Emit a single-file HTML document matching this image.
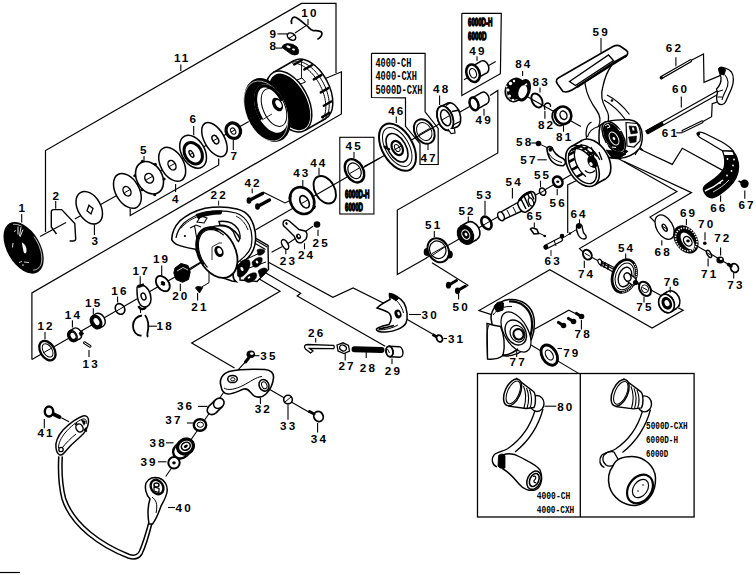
<!DOCTYPE html>
<html><head><meta charset="utf-8"><style>
html,body{margin:0;padding:0;background:#fff;width:756px;height:575px;overflow:hidden}
svg{display:block}
text{font-family:"Liberation Sans",sans-serif;font-weight:bold;fill:#000}
.c{font-family:"Liberation Sans",sans-serif;font-weight:bold}
.m{font-family:"Liberation Mono",monospace;font-weight:bold}
</style></head><body>
<svg width="756" height="575" viewBox="0 0 756 575">
<rect width="756" height="575" fill="#fff"/>
<polyline points="45.5,232 45.5,150.5 301.5,3.4 336,3.4 336,73" fill="none" stroke="#000" stroke-width="1.2" stroke-linejoin="miter"/>
<polyline points="326,78.3 341.4,71.8 341.4,113.9 31.9,292.9 31.9,359.5" fill="none" stroke="#000" stroke-width="1.2" stroke-linejoin="miter"/>
<polyline points="180.8,64.5 180.8,71" fill="none" stroke="#000" stroke-width="1.1" stroke-linejoin="miter"/>
<polyline points="130.2,208.5 130.2,215.5 218.7,165 218.7,158.5" fill="none" stroke="#000" stroke-width="1.2" stroke-linejoin="miter"/>
<polyline points="40,236.5 66,222.6" fill="none" stroke="#000" stroke-width="1.1" stroke-linejoin="miter"/>
<polyline points="74.8,219 252,119.8" fill="none" stroke="#000" stroke-width="1.1" stroke-linejoin="miter"/>
<polyline points="31.9,359.5 212.2,255.5" fill="none" stroke="#000" stroke-width="1.1" stroke-linejoin="miter"/>
<polyline points="255.8,229.8 302,203" fill="none" stroke="#000" stroke-width="1.1" stroke-linejoin="miter"/>
<polyline points="302,203 380,158 397.5,148 474,104" fill="none" stroke="#000" stroke-width="1.1" stroke-linejoin="miter"/>
<polyline points="371.5,53.3 425.1,53.3 425.1,111.8 438.2,128.4 438.2,164.5 420,164.5 420,143.7 405.5,126.3 405.5,97.8 371.5,97.5 371.5,53.3" fill="none" stroke="#000" stroke-width="1.2" stroke-linejoin="miter"/>
<polyline points="428,144 428,150" fill="none" stroke="#000" stroke-width="1.1" stroke-linejoin="miter"/>
<rect x="339.8" y="137.3" width="34.1" height="76.7" fill="none" stroke="#000" stroke-width="1.1"/>
<polyline points="461.8,13.3 501.3,13.3 500.4,73.7 461.8,95.4 461.8,13.3" fill="none" stroke="#000" stroke-width="1.2" stroke-linejoin="miter"/>
<polyline points="464,79.8 495.7,61.5" fill="none" stroke="#000" stroke-width="1.1" stroke-linejoin="miter"/>
<polyline points="490,95.6 497.8,90.4 497.8,153 397.3,210.1 397.3,274.4 426.5,258.1" fill="none" stroke="#000" stroke-width="1.2" stroke-linejoin="miter"/>
<polyline points="426,258 575,172.5" fill="none" stroke="#000" stroke-width="1.1" stroke-linejoin="miter"/>
<polyline points="432,262.8 468,285.3 465.5,287" fill="none" stroke="#000" stroke-width="1.1" stroke-linejoin="miter"/>
<polyline points="526,96 580.9,126.5" fill="none" stroke="#000" stroke-width="1.1" stroke-linejoin="miter"/>
<polyline points="616,157.3 676.9,191.4 579.5,248.6 584,253" fill="none" stroke="#000" stroke-width="1.2" stroke-linejoin="miter"/>
<polyline points="623.3,161 691.5,192.6 650,217 655,222" fill="none" stroke="#000" stroke-width="1.2" stroke-linejoin="miter"/>
<polyline points="640,149.3 672.3,164.4 682.3,148.3 722.7,170.4" fill="none" stroke="#000" stroke-width="1.2" stroke-linejoin="miter"/>
<polyline points="691.4,60.2 703.5,54 704,82.4 720.6,75.4" fill="none" stroke="#000" stroke-width="1.2" stroke-linejoin="miter"/>
<polyline points="702.5,121.7 711.6,116.7 712.2,103.6 718.6,101.6" fill="none" stroke="#000" stroke-width="1.2" stroke-linejoin="miter"/>
<polyline points="567.7,232.9 567.7,184.9 576,180.7" fill="none" stroke="#000" stroke-width="1.2" stroke-linejoin="miter"/>
<polyline points="584,253 680,306" fill="none" stroke="#000" stroke-width="1.1" stroke-linejoin="miter"/>
<polyline points="496.9,316.4 479,310.5 549.8,269.8 652.1,328.1 683.1,310.2 678.3,307.9" fill="none" stroke="#000" stroke-width="1.2" stroke-linejoin="miter"/>
<polyline points="534.3,329.3 568.8,310.2 578.3,315" fill="none" stroke="#000" stroke-width="1.2" stroke-linejoin="miter"/>
<polyline points="523,340.2 579,373.6" fill="none" stroke="#000" stroke-width="1.1" stroke-linejoin="miter"/>
<polyline points="268,262 332.9,297.4 353.1,287.9 388.8,305.7" fill="none" stroke="#000" stroke-width="1.2" stroke-linejoin="miter"/>
<polyline points="265.9,273.1 300.7,293.3 297.2,296 385.2,346.2" fill="none" stroke="#000" stroke-width="1.2" stroke-linejoin="miter"/>
<polyline points="257.6,278 280,291.2 191.7,343.1 234.5,368.1" fill="none" stroke="#000" stroke-width="1.2" stroke-linejoin="miter"/>
<polyline points="402,316.4 435.2,335.5" fill="none" stroke="#000" stroke-width="1.1" stroke-linejoin="miter"/>
<polyline points="271.5,252.3 281.9,246.7" fill="none" stroke="#000" stroke-width="1.1" stroke-linejoin="miter"/>
<polyline points="288,243.5 313,226.2" fill="none" stroke="#000" stroke-width="1.1" stroke-linejoin="miter"/>
<polyline points="268.9,389 309.1,412.3" fill="none" stroke="#000" stroke-width="1.1" stroke-linejoin="miter"/>
<polyline points="245.2,362.1 233.3,375.2" fill="none" stroke="#000" stroke-width="1.1" stroke-linejoin="miter"/>
<polyline points="224.4,391.2 165.7,476.5" fill="none" stroke="#000" stroke-width="1.1" stroke-linejoin="miter"/>
<polyline points="61.3,417.8 69.1,421.7" fill="none" stroke="#000" stroke-width="1.1" stroke-linejoin="miter"/>
<polyline points="189.2,270.2 212.2,255.5" fill="none" stroke="#000" stroke-width="1.1" stroke-linejoin="miter"/>
<polyline points="201.8,286.9 209,282.7 209,246" fill="none" stroke="#000" stroke-width="1" stroke-linejoin="miter"/>
<polyline points="364.2,166.5 380,158" fill="none" stroke="#000" stroke-width="1.1" stroke-linejoin="miter"/>
<polyline points="263,192 285,203 290,200.6" fill="none" stroke="#000" stroke-width="1.1" stroke-linejoin="miter"/>
<rect x="477.5" y="373.5" width="216.6" height="143.5" fill="none" stroke="#000" stroke-width="1.3"/>
<polyline points="580.3,373.5 580.3,517" fill="none" stroke="#000" stroke-width="1.3" stroke-linejoin="miter"/>
<polyline points="306.5,25.4 295,33" fill="none" stroke="#000" stroke-width="1.1" stroke-linejoin="miter"/>
<polyline points="668,229 728.7,264.5" fill="none" stroke="#000" stroke-width="1.1" stroke-linejoin="miter"/>
<ellipse cx="23.60" cy="247.80" rx="28.30" ry="16.50" transform="rotate(60 23.60 247.80)" fill="#000" stroke="#000" stroke-width="0" />
<polyline points="33.94,236.62 34.67,237.67 35.38,238.75 36.05,239.85 36.70,240.97 37.31,242.10 37.89,243.25 38.44,244.41 38.95,245.57 39.42,246.74 39.85,247.91 40.24,249.08 40.60,250.25 40.91,251.40 41.17,252.55 41.40,253.68 41.57,254.80 41.71,255.89 41.80,256.96 41.84,258.01 41.84,259.03 41.80,260.01 41.70,260.97 41.57,261.88 41.39,262.76 41.16,263.60 40.89,264.39 40.58,265.14 40.23,265.84 39.83,266.50 39.40,267.10 38.93,267.65 38.42,268.15 37.87,268.59 37.29,268.97 36.67,269.30 36.03,269.57 35.35,269.78 34.64,269.93 33.91,270.03 33.16,270.06" fill="none" stroke="#fff" stroke-width="0.8" />
<polyline points="13.10,224.46 13.29,224.43 13.48,224.41 13.67,224.38 13.86,224.37 14.06,224.35 14.25,224.34 14.45,224.33 14.65,224.33 14.85,224.33 15.05,224.33 15.26,224.34 15.46,224.35 15.67,224.37 15.87,224.39 16.08,224.41 16.29,224.44 16.50,224.47 16.71,224.50 16.92,224.54 17.14,224.58 17.35,224.62 17.57,224.67 17.78,224.72 18.00,224.78 18.22,224.84 18.44,224.90 18.65,224.97 18.87,225.04 19.09,225.11 19.32,225.19 19.54,225.27 19.76,225.35 19.98,225.44 20.21,225.53 20.43,225.63 20.65,225.72 20.88,225.83 21.10,225.93 21.33,226.04 21.55,226.15" fill="none" stroke="#fff" stroke-width="0.9" />
<path d="M22,242.5 C25,244 27,247.5 26.5,251.5 C26,254 24.5,254 23.5,251.5 C23,248 22,245 22,242.5 Z" fill="#fff" stroke="#000" stroke-width="0" />
<path d="M18,226.5 l0,8 M21,227 l-1.5,9 M23,229.5 l-3,7.5 M13,243 l-0.5,4.5" fill="none" stroke="#fff" stroke-width="0.9" />
<path d="M14,231.5 l2,-1 M19,262.5 l3,-1 M24,262 l5,0.5 M22,265 l2,0" fill="none" stroke="#fff" stroke-width="0.8" />
<path d="M56.5,234 L51.3,227 L51.3,212 Q51.3,209.6 53.5,209.6 L61.7,209.6 L74.8,223.5 L75.7,239 Q75.5,241 73,241 L69.6,241" fill="none" stroke="#000" stroke-width="1.4" />
<ellipse cx="89.25" cy="207.75" rx="17.56" ry="11.46" transform="rotate(60 89.25 207.75)" fill="#fff" stroke="#000" stroke-width="1.5" />
<path d="M89,205.2 L93,208.5 L91,214 L87,210.7 Z" fill="none" stroke="#000" stroke-width="1.3" />
<polyline points="94.4,224 94.4,235" fill="none" stroke="#000" stroke-width="1.1" stroke-linejoin="miter"/>
<polyline points="21.7,214 21.7,222.6" fill="none" stroke="#000" stroke-width="1.1" stroke-linejoin="miter"/>
<polyline points="55.7,201 55.7,208.7" fill="none" stroke="#000" stroke-width="1.1" stroke-linejoin="miter"/>
<ellipse cx="127.40" cy="190.90" rx="18.91" ry="11.77" transform="rotate(60 127.40 190.90)" fill="#fff" stroke="#000" stroke-width="1.5" />
<ellipse cx="127.00" cy="191.25" rx="5.08" ry="3.57" transform="rotate(60 127.00 191.25)" fill="#fff" stroke="#000" stroke-width="1.5" />
<ellipse cx="149.50" cy="177.75" rx="17.27" ry="12.73" transform="rotate(60 149.50 177.75)" fill="#fff" stroke="#000" stroke-width="1.6" />
<circle cx="154.7" cy="194.7" r="1.5" fill="#000"/>
<circle cx="141.9" cy="189.7" r="1.5" fill="#000"/>
<circle cx="134.8" cy="175.7" r="1.5" fill="#000"/>
<circle cx="142.4" cy="161.2" r="1.5" fill="#000"/>
<circle cx="155.3" cy="164.2" r="1.5" fill="#000"/>
<circle cx="164.1" cy="179.1" r="1.5" fill="#000"/>
<ellipse cx="149.15" cy="178.25" rx="4.94" ry="4.14" transform="rotate(60 149.15 178.25)" fill="#fff" stroke="#000" stroke-width="1.5" />
<polyline points="144,156 144,161" fill="none" stroke="#000" stroke-width="1.1" stroke-linejoin="miter"/>
<ellipse cx="172.20" cy="164.35" rx="18.43" ry="11.39" transform="rotate(60 172.20 164.35)" fill="#fff" stroke="#000" stroke-width="1.5" />
<ellipse cx="172.00" cy="165.20" rx="5.15" ry="3.53" transform="rotate(60 172.00 165.20)" fill="#fff" stroke="#000" stroke-width="1.5" />
<polyline points="175.6,184 175.6,192" fill="none" stroke="#000" stroke-width="1.1" stroke-linejoin="miter"/>
<ellipse cx="193.10" cy="151.75" rx="17.78" ry="11.58" transform="rotate(60 193.10 151.75)" fill="#fff" stroke="#000" stroke-width="1.5" />
<ellipse cx="193.25" cy="153.25" rx="11.43" ry="8.40" transform="rotate(60 193.25 153.25)" fill="#fff" stroke="#000" stroke-width="3.0" />
<ellipse cx="191.40" cy="153.85" rx="3.74" ry="1.74" transform="rotate(60 191.40 153.85)" fill="#fff" stroke="#000" stroke-width="1.4" />
<polyline points="193.7,126 193.7,135.3" fill="none" stroke="#000" stroke-width="1.1" stroke-linejoin="miter"/>
<ellipse cx="214.45" cy="139.55" rx="18.84" ry="9.92" transform="rotate(60 214.45 139.55)" fill="#fff" stroke="#000" stroke-width="1.5" />
<ellipse cx="215.35" cy="139.55" rx="4.63" ry="2.79" transform="rotate(60 215.35 139.55)" fill="#fff" stroke="#000" stroke-width="1.5" />
<ellipse cx="233.30" cy="130.70" rx="7.89" ry="7.09" transform="rotate(60 233.30 130.70)" fill="#fff" stroke="#000" stroke-width="3.2" />
<ellipse cx="233.15" cy="131.10" rx="3.30" ry="2.39" transform="rotate(60 233.15 131.10)" fill="#fff" stroke="#000" stroke-width="1.0" />
<polyline points="233.3,140 233.3,150" fill="none" stroke="#000" stroke-width="1.1" stroke-linejoin="miter"/>
<text x="18.6" y="212" font-size="11.7" letter-spacing="2.1">1</text>
<text x="52.6" y="200" font-size="11.7" letter-spacing="2.1">2</text>
<text x="91.6" y="245" font-size="11.7" letter-spacing="2.1">3</text>
<text x="172.1" y="202.6" font-size="11.7" letter-spacing="2.1">4</text>
<text x="140.0" y="154.3" font-size="11.7" letter-spacing="2.1">5</text>
<text x="189.6" y="123" font-size="11.7" letter-spacing="2.1">6</text>
<text x="230.6" y="160.3" font-size="11.7" letter-spacing="2.1">7</text>
<text x="269.6" y="50" font-size="11.7" letter-spacing="2.1">8</text>
<text x="269.6" y="37.6" font-size="11.7" letter-spacing="2.1">9</text>
<text x="301.3" y="16.7" font-size="11.7" letter-spacing="2.1">10</text>
<text x="173.9" y="62.4" font-size="11.7" letter-spacing="2.1">11</text>
<text x="37.5" y="329.8" font-size="11.7" letter-spacing="2.1">12</text>
<text x="82.6" y="367.9" font-size="11.7" letter-spacing="2.1">13</text>
<text x="64.8" y="319" font-size="11.7" letter-spacing="2.1">14</text>
<text x="85.1" y="307.1" font-size="11.7" letter-spacing="2.1">15</text>
<text x="111.3" y="295.2" font-size="11.7" letter-spacing="2.1">16</text>
<text x="132.6" y="275" font-size="11.7" letter-spacing="2.1">17</text>
<text x="156.6" y="330" font-size="11.7" letter-spacing="2.1">18</text>
<text x="152.9" y="263.1" font-size="11.7" letter-spacing="2.1">19</text>
<text x="172.2" y="300.2" font-size="11.7" letter-spacing="2.1">20</text>
<text x="191.29999999999998" y="311" font-size="11.7" letter-spacing="2.1">21</text>
<text x="210.6" y="198.6" font-size="11.7" letter-spacing="2.1">22</text>
<text x="279.8" y="265.1" font-size="11.7" letter-spacing="2.1">23</text>
<text x="298.0" y="259" font-size="11.7" letter-spacing="2.1">24</text>
<text x="312.6" y="246.9" font-size="11.7" letter-spacing="2.1">25</text>
<text x="308.1" y="336.5" font-size="11.7" letter-spacing="2.1">26</text>
<text x="338.40000000000003" y="370" font-size="11.7" letter-spacing="2.1">27</text>
<text x="359.8" y="372.4" font-size="11.7" letter-spacing="2.1">28</text>
<text x="384.8" y="374.8" font-size="11.7" letter-spacing="2.1">29</text>
<text x="421.6" y="318.8" font-size="11.7" letter-spacing="2.1">30</text>
<text x="447.90000000000003" y="342.6" font-size="11.7" letter-spacing="2.1">31</text>
<text x="254.7" y="413.4" font-size="11.7" letter-spacing="2.1">32</text>
<text x="280.1" y="430.3" font-size="11.7" letter-spacing="2.1">33</text>
<text x="310.8" y="443" font-size="11.7" letter-spacing="2.1">34</text>
<text x="260.3" y="359.8" font-size="11.7" letter-spacing="2.1">35</text>
<text x="177.0" y="410" font-size="11.7" letter-spacing="2.1">36</text>
<text x="165.29999999999998" y="424.4" font-size="11.7" letter-spacing="2.1">37</text>
<text x="149.6" y="446.5" font-size="11.7" letter-spacing="2.1">38</text>
<text x="140.5" y="466" font-size="11.7" letter-spacing="2.1">39</text>
<text x="175.6" y="511.8" font-size="11.7" letter-spacing="2.1">40</text>
<text x="37.4" y="437.4" font-size="11.7" letter-spacing="2.1">41</text>
<text x="244.5" y="187.2" font-size="11.7" letter-spacing="2.1">42</text>
<text x="293.20000000000005" y="176.9" font-size="11.7" letter-spacing="2.1">43</text>
<text x="310.20000000000005" y="166.5" font-size="11.7" letter-spacing="2.1">44</text>
<text x="345.6" y="149.5" font-size="11.7" letter-spacing="2.1">45</text>
<text x="388.20000000000005" y="114.5" font-size="11.7" letter-spacing="2.1">46</text>
<text x="420.40000000000003" y="161.8" font-size="11.7" letter-spacing="2.1">47</text>
<text x="433.1" y="92.8" font-size="11.7" letter-spacing="2.1">48</text>
<text x="469.3" y="55.4" font-size="11.7" letter-spacing="2.1">49</text>
<text x="475.6" y="124.3" font-size="11.7" letter-spacing="2.1">49</text>
<text x="452.6" y="310.5" font-size="11.7" letter-spacing="2.1">50</text>
<text x="425.1" y="228.9" font-size="11.7" letter-spacing="2.1">51</text>
<text x="458.5" y="215.3" font-size="11.7" letter-spacing="2.1">52</text>
<text x="476.20000000000005" y="198.6" font-size="11.7" letter-spacing="2.1">53</text>
<text x="505.6" y="186" font-size="11.7" letter-spacing="2.1">54</text>
<text x="618.0" y="252.3" font-size="11.7" letter-spacing="2.1">54</text>
<text x="533.9" y="178.6" font-size="11.7" letter-spacing="2.1">55</text>
<text x="549.6" y="206.8" font-size="11.7" letter-spacing="2.1">56</text>
<text x="520.3000000000001" y="164" font-size="11.7" letter-spacing="2.1">57</text>
<text x="516.1" y="146.4" font-size="11.7" letter-spacing="2.1">58</text>
<text x="592.6" y="35.8" font-size="11.7" letter-spacing="2.1">59</text>
<text x="671.9" y="93" font-size="11.7" letter-spacing="2.1">60</text>
<text x="661.8000000000001" y="136.9" font-size="11.7" letter-spacing="2.1">61</text>
<text x="665.8000000000001" y="52.2" font-size="11.7" letter-spacing="2.1">62</text>
<text x="544.6" y="265" font-size="11.7" letter-spacing="2.1">63</text>
<text x="570.4" y="217.5" font-size="11.7" letter-spacing="2.1">64</text>
<text x="526.6" y="220.4" font-size="11.7" letter-spacing="2.1">65</text>
<text x="710.2" y="212" font-size="11.7" letter-spacing="2.1">66</text>
<text x="738.4" y="209" font-size="11.7" letter-spacing="2.1">67</text>
<text x="654.6" y="255.6" font-size="11.7" letter-spacing="2.1">68</text>
<text x="679.9" y="217" font-size="11.7" letter-spacing="2.1">69</text>
<text x="698.1" y="228.2" font-size="11.7" letter-spacing="2.1">70</text>
<text x="701.1" y="277.6" font-size="11.7" letter-spacing="2.1">71</text>
<text x="714.2" y="242.3" font-size="11.7" letter-spacing="2.1">72</text>
<text x="727.3000000000001" y="288.7" font-size="11.7" letter-spacing="2.1">73</text>
<text x="577.9" y="277.8" font-size="11.7" letter-spacing="2.1">74</text>
<text x="636.3000000000001" y="311.4" font-size="11.7" letter-spacing="2.1">75</text>
<text x="663.8000000000001" y="285.7" font-size="11.7" letter-spacing="2.1">76</text>
<text x="509.6" y="366.4" font-size="11.7" letter-spacing="2.1">77</text>
<text x="574.6" y="338" font-size="11.7" letter-spacing="2.1">78</text>
<text x="563.2" y="357" font-size="11.7" letter-spacing="2.1">79</text>
<text x="557.2" y="411" font-size="11.7" letter-spacing="2.1">80</text>
<text x="556.1" y="141.3" font-size="11.7" letter-spacing="2.1">81</text>
<text x="537.9" y="129.1" font-size="11.7" letter-spacing="2.1">82</text>
<text x="532.6" y="85.7" font-size="11.7" letter-spacing="2.1">83</text>
<text x="515.2" y="68.3" font-size="11.7" letter-spacing="2.1">84</text>
<ellipse cx="310.00" cy="89.50" rx="33.00" ry="19.00" transform="rotate(62 310.00 89.50)" fill="#fff" stroke="#000" stroke-width="1.5" />
<polygon points="273.22,72.52 294.22,60.52 325.78,118.48 304.78,130.48" fill="#fff" stroke="none"/>
<line x1="273.22" y1="72.52" x2="294.22" y2="60.52" stroke="#000" stroke-width="1.5"/>
<line x1="304.78" y1="130.48" x2="325.78" y2="118.48" stroke="#000" stroke-width="1.5"/>
<ellipse cx="289.00" cy="101.50" rx="33.00" ry="19.00" transform="rotate(62 289.00 101.50)" fill="#fff" stroke="#000" stroke-width="1.5" />
<polyline points="293.43,61.50 294.78,61.24 296.18,61.13 297.63,61.17 299.13,61.36 300.66,61.70 302.22,62.19 303.80,62.82 305.39,63.59 306.99,64.49 308.59,65.53 310.17,66.70 311.74,67.99 313.28,69.40 314.78,70.91 316.25,72.53 317.67,74.24 319.03,76.03 320.33,77.90 321.56,79.84 322.72,81.83 323.79,83.88 324.79,85.96 325.69,88.06 326.50,90.19 327.21,92.32 327.81,94.45 328.32,96.57 328.71,98.66 329.00,100.71 329.17,102.72 329.24,104.68 329.19,106.57 329.03,108.39 328.76,110.13 328.38,111.78 327.89,113.33 327.30,114.77 326.60,116.09 325.81,117.30 324.92,118.38" fill="none" stroke="#000" stroke-width="1.0" />
<polyline points="291.97,63.07 293.32,63.03 294.71,63.12 296.14,63.34 297.59,63.69 299.07,64.18 300.57,64.79 302.08,65.53 303.59,66.39 305.10,67.38 306.60,68.47 308.09,69.68 309.55,70.99 310.98,72.40 312.38,73.90 313.74,75.49 315.05,77.15 316.31,78.89 317.51,80.69 318.64,82.55 319.71,84.46 320.70,86.40 321.62,88.38 322.45,90.38 323.20,92.39 323.86,94.41 324.43,96.43 324.91,98.43 325.29,100.41 325.57,102.36 325.75,104.27 325.83,106.13 325.81,107.94 325.69,109.69 325.48,111.36 325.16,112.95 324.75,114.46 324.24,115.88 323.63,117.20 322.94,118.42 322.16,119.52" fill="none" stroke="#000" stroke-width="1.0" />
<line x1="301.7" y1="60.2" x2="294.2" y2="64.5" stroke="#000" stroke-width="2.4" stroke-linecap="round"/>
<line x1="311.8" y1="65.2" x2="304.3" y2="69.5" stroke="#000" stroke-width="2.4" stroke-linecap="round"/>
<line x1="321.3" y1="75.1" x2="313.8" y2="79.4" stroke="#000" stroke-width="2.4" stroke-linecap="round"/>
<line x1="328.3" y1="88.1" x2="320.8" y2="92.4" stroke="#000" stroke-width="2.4" stroke-linecap="round"/>
<line x1="331.3" y1="101.5" x2="323.8" y2="105.8" stroke="#000" stroke-width="2.4" stroke-linecap="round"/>
<line x1="329.7" y1="112.8" x2="322.2" y2="117.1" stroke="#000" stroke-width="2.4" stroke-linecap="round"/>
<ellipse cx="289.60" cy="101.90" rx="30.80" ry="16.80" transform="rotate(62 289.60 101.90)" fill="#000" stroke="#000" stroke-width="0" />
<path d="M297,80 l5,-2 l3.5,4 l-5,2 z" fill="none" stroke="#000" stroke-width="1.0" />
<polyline points="301.5,62 301.5,78" fill="none" stroke="#000" stroke-width="0.9" stroke-linejoin="miter"/>
<ellipse cx="267.50" cy="110.00" rx="33.50" ry="21.50" transform="rotate(67 267.50 110.00)" fill="#000" stroke="#000" stroke-width="0" />
<ellipse cx="265.80" cy="111.00" rx="31.50" ry="19.80" transform="rotate(67 265.80 111.00)" fill="none" stroke="#fff" stroke-width="0.6" />
<ellipse cx="271.00" cy="108.50" rx="25.50" ry="14.80" transform="rotate(67 271.00 108.50)" fill="#fff" stroke="#000" stroke-width="0" />
<polyline points="261.71,119.42 260.73,117.74 259.82,116.00 258.98,114.21 258.22,112.38 257.56,110.52 256.98,108.65 256.50,106.78 256.11,104.93 255.83,103.09 255.65,101.29 255.58,99.54 255.61,97.86 255.75,96.24 255.99,94.71 256.33,93.27 256.77,91.93 257.31,90.71 257.94,89.61 258.66,88.64 259.46,87.80 260.35,87.11 261.30,86.55 262.32,86.15 263.40,85.90 264.53,85.81 265.71,85.86 266.92,86.08 268.16,86.44 269.42,86.96 270.69,87.62 271.96,88.42 273.22,89.36 274.47,90.43 275.70,91.62 276.90,92.93 278.05,94.35 279.16,95.86 280.21,97.45 281.19,99.12 282.11,100.86" fill="none" stroke="#000" stroke-width="3.2" />
<ellipse cx="274.00" cy="107.50" rx="20.00" ry="11.00" transform="rotate(67 274.00 107.50)" fill="none" stroke="#000" stroke-width="1.0" />
<ellipse cx="277.50" cy="104.50" rx="7.40" ry="4.80" transform="rotate(60 277.50 104.50)" fill="#000" stroke="#000" stroke-width="0" />
<ellipse cx="278.50" cy="104.00" rx="4.30" ry="2.60" transform="rotate(60 278.50 104.00)" fill="#fff" stroke="#000" stroke-width="0" />
<polyline points="262,120 272,114" fill="none" stroke="#000" stroke-width="0.8" stroke-linejoin="miter"/>
<path d="M291.7,24 C290.5,19 293,16 296,17.5 C300,19.5 303,23 306.5,25.4 C309,27.3 310,29.6 312.6,30.3 C316,31 320,30.3 321.6,32.3 C323,34.5 320.5,37.5 317.4,39.4" fill="none" stroke="#000" stroke-width="1.7" />
<ellipse cx="291.50" cy="36.60" rx="4.60" ry="3.20" transform="rotate(35 291.50 36.60)" fill="#fff" stroke="#000" stroke-width="1.5" />
<polyline points="288.5,38.5 294.5,35" fill="none" stroke="#000" stroke-width="1.0" stroke-linejoin="miter"/>
<polyline points="277.4,33.9 287,33.9" fill="none" stroke="#000" stroke-width="1.1" stroke-linejoin="miter"/>
<path d="M281.8,47.4 Q283,44 287,43.6 Q293,43.3 297,47 Q300,51 298,54 Q295,56 291,54 Z" fill="#000" stroke="#000" stroke-width="0.8" />
<ellipse cx="288.50" cy="46.80" rx="2.20" ry="1.20" transform="rotate(20 288.50 46.80)" fill="#fff" stroke="#000" stroke-width="0" />
<ellipse cx="293.50" cy="49.50" rx="1.50" ry="1.00" transform="rotate(20 293.50 49.50)" fill="#fff" stroke="#000" stroke-width="0" />
<polyline points="275.8,48.1 282,48.1" fill="none" stroke="#000" stroke-width="1.1" stroke-linejoin="miter"/>
<polyline points="308,19 308,25" fill="none" stroke="#000" stroke-width="1.1" stroke-linejoin="miter"/>
<line x1="249" y1="200.5" x2="262.5" y2="193.5" stroke="#000" stroke-width="3.4" stroke-linecap="round"/>
<ellipse cx="249" cy="200.5" rx="2.4" ry="3.2" fill="#000"/>
<line x1="257.5" y1="206.5" x2="269.5" y2="200" stroke="#000" stroke-width="3.4" stroke-linecap="round"/>
<ellipse cx="257.5" cy="206.5" rx="2.4" ry="3.2" fill="#000"/>
<polyline points="252.2,188.4 252.2,193.3" fill="none" stroke="#000" stroke-width="1.1" stroke-linejoin="miter"/>
<ellipse cx="302.15" cy="200.60" rx="13.98" ry="11.47" transform="rotate(60 302.15 200.60)" fill="#fff" stroke="#000" stroke-width="2.6" />
<ellipse cx="304.55" cy="201.85" rx="6.71" ry="4.05" transform="rotate(60 304.55 201.85)" fill="#fff" stroke="#000" stroke-width="1.6" />
<path d="M291.5,196 l-2,-1.5 l-0.5,4 z M313,205 l2.5,1 l-1,3 z" fill="#000" stroke="#000" stroke-width="1" />
<polyline points="302.8,180 302.8,186" fill="none" stroke="#000" stroke-width="1.1" stroke-linejoin="miter"/>
<ellipse cx="324.75" cy="189.75" rx="14.84" ry="9.76" transform="rotate(60 324.75 189.75)" fill="none" stroke="#000" stroke-width="1.9" />
<polyline points="319,167.7 319,175" fill="none" stroke="#000" stroke-width="1.1" stroke-linejoin="miter"/>
<ellipse cx="354.45" cy="170.80" rx="12.42" ry="8.68" transform="rotate(60 354.45 170.80)" fill="#fff" stroke="#000" stroke-width="2.4" />
<ellipse cx="354.50" cy="170.80" rx="8.30" ry="6.08" transform="rotate(60 354.50 170.80)" fill="none" stroke="#000" stroke-width="1.2" />
<polyline points="354,152 354,158" fill="none" stroke="#000" stroke-width="1.1" stroke-linejoin="miter"/>
<text x="345" y="197.6" font-size="11.2" textLength="24.5" lengthAdjust="spacingAndGlyphs" stroke="#000" stroke-width="1.3">6000D-H</text>
<text x="345" y="211.3" font-size="11.2" textLength="18" lengthAdjust="spacingAndGlyphs" stroke="#000" stroke-width="1.3">6000D</text>
<ellipse cx="397.50" cy="147.15" rx="25.84" ry="15.29" transform="rotate(60 397.50 147.15)" fill="#fff" stroke="#000" stroke-width="2.0" />
<ellipse cx="397.25" cy="147.00" rx="21.48" ry="11.67" transform="rotate(60 397.25 147.00)" fill="none" stroke="#000" stroke-width="1.0" />
<ellipse cx="397.00" cy="147.75" rx="15.62" ry="8.94" transform="rotate(60 397.00 147.75)" fill="none" stroke="#000" stroke-width="1.6" />
<ellipse cx="397.25" cy="148.00" rx="7.55" ry="5.01" transform="rotate(60 397.25 148.00)" fill="#fff" stroke="#000" stroke-width="2.2" />
<ellipse cx="397.25" cy="148.00" rx="3.82" ry="2.28" transform="rotate(60 397.25 148.00)" fill="#fff" stroke="#000" stroke-width="1.0" />
<path d="M384,146 q3,4 6,3" fill="none" stroke="#000" stroke-width="2.2" />
<polyline points="396.3,116.6 396.3,123" fill="none" stroke="#000" stroke-width="1.1" stroke-linejoin="miter"/>
<ellipse cx="424.25" cy="131.50" rx="12.99" ry="9.45" transform="rotate(60 424.25 131.50)" fill="none" stroke="#000" stroke-width="2.0" />
<ellipse cx="424.25" cy="131.50" rx="9.56" ry="7.04" transform="rotate(60 424.25 131.50)" fill="none" stroke="#000" stroke-width="1.0" />
<ellipse cx="452.50" cy="115.00" rx="12.70" ry="7.50" transform="rotate(70 452.50 115.00)" fill="#fff" stroke="#000" stroke-width="1.6" />
<polygon points="440.59,106.37 447.89,103.17 457.11,126.83 449.81,130.03" fill="#fff" stroke="none"/>
<line x1="440.59" y1="106.37" x2="447.89" y2="103.17" stroke="#000" stroke-width="1.6"/>
<line x1="449.81" y1="130.03" x2="457.11" y2="126.83" stroke="#000" stroke-width="1.6"/>
<ellipse cx="445.20" cy="118.20" rx="12.70" ry="7.50" transform="rotate(70 445.20 118.20)" fill="#fff" stroke="#000" stroke-width="1.6" />
<path d="M452,111.5 L459.5,110 M453,125 L460,121.5 M446,105.5 L450.5,102.5" fill="none" stroke="#000" stroke-width="1.3" />
<ellipse cx="445.20" cy="118.20" rx="12.70" ry="7.50" transform="rotate(70 445.20 118.20)" fill="#fff" stroke="#000" stroke-width="1.8" />
<ellipse cx="445.70" cy="117.80" rx="8.30" ry="4.60" transform="rotate(70 445.70 117.80)" fill="#fff" stroke="#000" stroke-width="1.5" />
<path d="M448,129 l3,4.5 l4,-0.5 l-0.5,-4" fill="#fff" stroke="#000" stroke-width="1.2" />
<polyline points="439.6,95.4 439.6,105" fill="none" stroke="#000" stroke-width="1.1" stroke-linejoin="miter"/>
<ellipse cx="484.50" cy="98.00" rx="6.20" ry="4.30" transform="rotate(70 484.50 98.00)" fill="#fff" stroke="#000" stroke-width="1.5" />
<polygon points="471.42,98.39 481.92,92.39 487.08,103.61 476.58,109.61" fill="#fff" stroke="none"/>
<line x1="471.42" y1="98.39" x2="481.92" y2="92.39" stroke="#000" stroke-width="1.5"/>
<line x1="476.58" y1="109.61" x2="487.08" y2="103.61" stroke="#000" stroke-width="1.5"/>
<ellipse cx="474.00" cy="104.00" rx="6.20" ry="4.30" transform="rotate(70 474.00 104.00)" fill="#fff" stroke="#000" stroke-width="1.5" />
<ellipse cx="474.00" cy="103.90" rx="6.64" ry="4.13" transform="rotate(70 474.00 103.90)" fill="#fff" stroke="#000" stroke-width="2.4" />
<polyline points="484,108.7 484,115.7" fill="none" stroke="#000" stroke-width="1.1" stroke-linejoin="miter"/>
<ellipse cx="484.00" cy="67.00" rx="6.50" ry="4.60" transform="rotate(70 484.00 67.00)" fill="#fff" stroke="#000" stroke-width="1.5" />
<polygon points="470.29,67.32 481.29,61.12 486.71,72.88 475.71,79.08" fill="#fff" stroke="none"/>
<line x1="470.29" y1="67.32" x2="481.29" y2="61.12" stroke="#000" stroke-width="1.5"/>
<line x1="475.71" y1="79.08" x2="486.71" y2="72.88" stroke="#000" stroke-width="1.5"/>
<ellipse cx="473.00" cy="73.20" rx="6.50" ry="4.60" transform="rotate(70 473.00 73.20)" fill="#fff" stroke="#000" stroke-width="1.5" />
<ellipse cx="473.00" cy="73.25" rx="9.01" ry="6.45" transform="rotate(70 473.00 73.25)" fill="#fff" stroke="#000" stroke-width="2.6" />
<ellipse cx="473.00" cy="73.25" rx="4.91" ry="3.27" transform="rotate(70 473.00 73.25)" fill="#fff" stroke="#000" stroke-width="1.2" />
<polyline points="477,56.3 477,60.7" fill="none" stroke="#000" stroke-width="1.1" stroke-linejoin="miter"/>
<text x="468" y="25.8" font-size="11" textLength="24.5" lengthAdjust="spacingAndGlyphs" stroke="#000" stroke-width="1.3">6000D-H</text>
<text x="468" y="39.6" font-size="11" textLength="18.5" lengthAdjust="spacingAndGlyphs" stroke="#000" stroke-width="1.3">6000D</text>
<text x="375.4" y="67.3" font-size="12" class="m" textLength="36" lengthAdjust="spacingAndGlyphs" transform="translate(375.4 67.3) scale(1 1.05) translate(-375.4 -67.3)">4000-CH</text>
<text x="375.4" y="80.5" font-size="12" class="m" textLength="41.6" lengthAdjust="spacingAndGlyphs" transform="translate(375.4 80.5) scale(1 1.05) translate(-375.4 -80.5)">4000-CXH</text>
<text x="375.4" y="94.4" font-size="12" class="m" textLength="47" lengthAdjust="spacingAndGlyphs" transform="translate(375.4 94.4) scale(1 1.05) translate(-375.4 -94.4)">5000D-CXH</text>
<ellipse cx="515.00" cy="90.00" rx="12.60" ry="10.20" transform="rotate(-70 515.00 90.00)" fill="#000" stroke="#000" stroke-width="0" />
<polyline points="522.60,93.09 522.29,93.82 521.94,94.52 521.55,95.20 521.13,95.84 520.67,96.46 520.18,97.04 519.66,97.58 519.12,98.07 518.55,98.53 517.96,98.93 517.35,99.28 516.73,99.58 516.11,99.83 515.47,100.02 514.83,100.16 514.20,100.24 513.57,100.26 512.94,100.22 512.33,100.13 511.73,99.97 511.15,99.77 510.60,99.51 510.06,99.19 509.56,98.82 509.08,98.41 508.64,97.94 508.24,97.43 507.87,96.88 507.54,96.29 507.26,95.67 507.02,95.01 506.82,94.33 506.67,93.62 506.57,92.89 506.51,92.14 506.50,91.39 506.54,90.62 506.63,89.85 506.76,89.08 506.94,88.32" fill="none" stroke="#fff" stroke-width="0.8" />
<circle cx="510.5" cy="83.5" r="1.7" fill="#fff"/>
<circle cx="508" cy="90" r="1.5" fill="#fff"/>
<circle cx="509.5" cy="96" r="1.5" fill="#fff"/>
<circle cx="514" cy="81" r="1.2" fill="#fff"/>
<circle cx="513" cy="100" r="1.2" fill="#fff"/>
<circle cx="506.5" cy="86.5" r="1" fill="#fff"/>
<ellipse cx="523.50" cy="90.30" rx="11.60" ry="7.00" transform="rotate(-72 523.50 90.30)" fill="#000" stroke="#000" stroke-width="0" />
<ellipse cx="522.80" cy="91.80" rx="6.80" ry="4.20" transform="rotate(-72 522.80 91.80)" fill="#fff" stroke="#000" stroke-width="0" />
<ellipse cx="526.00" cy="84.50" rx="1.50" ry="0.90" transform="rotate(-30 526.00 84.50)" fill="#fff" stroke="#000" stroke-width="0" />
<polyline points="522.6,70.9 522.6,76" fill="none" stroke="#000" stroke-width="1.1" stroke-linejoin="miter"/>
<ellipse cx="536.95" cy="100.45" rx="7.52" ry="4.87" transform="rotate(60 536.95 100.45)" fill="none" stroke="#000" stroke-width="2.0" />
<polyline points="540,87.4 540,92.6" fill="none" stroke="#000" stroke-width="1.1" stroke-linejoin="miter"/>
<path d="M545,110 q-2,-6 2,-7 q4,0 3.5,4" fill="none" stroke="#000" stroke-width="1.4" />
<polyline points="544.9,111 544.9,118.7" fill="none" stroke="#000" stroke-width="1.1" stroke-linejoin="miter"/>
<ellipse cx="558.50" cy="117.50" rx="8.30" ry="6.00" transform="rotate(70 558.50 117.50)" fill="#fff" stroke="#000" stroke-width="1.8" />
<polygon points="559.53,107.49 555.03,109.99 561.97,125.01 566.47,122.51" fill="#fff" stroke="none"/>
<line x1="559.53" y1="107.49" x2="555.03" y2="109.99" stroke="#000" stroke-width="1.8"/>
<line x1="566.47" y1="122.51" x2="561.97" y2="125.01" stroke="#000" stroke-width="1.8"/>
<ellipse cx="563.00" cy="115.00" rx="8.30" ry="6.00" transform="rotate(70 563.00 115.00)" fill="#fff" stroke="#000" stroke-width="1.8" />
<ellipse cx="563.15" cy="115.25" rx="8.84" ry="8.05" transform="rotate(70 563.15 115.25)" fill="#fff" stroke="#000" stroke-width="2.6" />
<ellipse cx="563.50" cy="115.25" rx="4.35" ry="3.37" transform="rotate(70 563.50 115.25)" fill="#fff" stroke="#000" stroke-width="1.4" />
<polyline points="563.5,124.8 563.5,131.7" fill="none" stroke="#000" stroke-width="1.1" stroke-linejoin="miter"/>
<path d="M585.5,86 C587,96 592,104 597,111 C600.5,116 601,121 598.5,126.5 L607.5,123.5 C609.5,118 608.5,113 606,109 C602.5,103 600.5,94 603,86 C604.5,79 607.5,71 611.5,65.5 L611,60 L584,78 Z" fill="#fff" stroke="#000" stroke-width="1.3" />
<path d="M557.5,84 C555,80 557,78.5 560,77 L613,46.5 C616,45 618,45 620,46 L626.5,50.5 C628.5,52 628,55 625.5,56.5 L572,90 C569.5,91.5 566,92.5 563,91.5 Z" fill="#fff" stroke="#000" stroke-width="1.6" />
<path d="M569.5,81.5 L608.5,55 L613.5,60.5 L575.5,85.5 Z" fill="#fff" stroke="#000" stroke-width="1.4" />
<path d="M577,87 L614,62.5 L626.5,55.5" fill="none" stroke="#000" stroke-width="2.2" />
<polyline points="601,38 601,52.8" fill="none" stroke="#000" stroke-width="1.1" stroke-linejoin="miter"/>
<path d="M598.5,126.5 C593,128 589,131 587.5,137 M591.5,122 C587,124 585,131 586.5,139" fill="none" stroke="#000" stroke-width="1.2" />
<path d="M604,100 C611,104 619,111 625,119 M607,95 C615,99 623,106 629.5,114.5" fill="none" stroke="#000" stroke-width="1.2" />
<circle cx="612" cy="100.5" r="1.3" fill="#000"/>
<path d="M600,126 C603,121 615,119.5 629,119.8 C636,120.5 640,124 641.5,130 C643,137 642,144 639.5,148.5 C635,154 628,157.5 619,158.5 C610,159 603,156 600.5,150 C598.5,143 598.5,132 600,126 Z" fill="#fff" stroke="#000" stroke-width="1.5" />
<ellipse cx="613.75" cy="137.25" rx="17.41" ry="9.11" transform="rotate(60 613.75 137.25)" fill="#fff" stroke="#000" stroke-width="1.5" />
<ellipse cx="613.80" cy="137.30" rx="16.03" ry="8.36" transform="rotate(60 613.80 137.30)" fill="#000" stroke="#000" stroke-width="0.1" />
<ellipse cx="614.00" cy="138.50" rx="7.13" ry="4.05" transform="rotate(60 614.00 138.50)" fill="none" stroke="#fff" stroke-width="0.9" />
<path d="M607,128 l3,-1 M618,128.5 l2,2.5 M606,143 l2,3 M612,147 l4,0.5" fill="none" stroke="#fff" stroke-width="1.0" />
<ellipse cx="614.00" cy="138.50" rx="1.60" ry="1.20" transform="rotate(60 614.00 138.50)" fill="#fff" stroke="#000" stroke-width="0" />
<path d="M605,126 l3,-2 l2,3 M620,126 l2,3 l-2,2" fill="none" stroke="#fff" stroke-width="1" />
<path d="M626,122.5 L637,123.5 C640,127 641,134 640,141 L634,147 L627,146 Z" fill="#fff" stroke="#000" stroke-width="1.2" />
<path d="M629,126 L636,126.5 L637.5,133 L631,134 Z M628.5,137 L636.5,136 L636,142 L630,143 Z" fill="#000" stroke="#000" stroke-width="0.6" />
<path d="M632,127.5 l2,0 l0.5,3 l-2,0z" fill="#fff" stroke="#000" stroke-width="0" />
<path d="M608,152 L614,157 L622,155.5 L628,151 M612,150 l4,4 l5,-1.5" fill="none" stroke="#000" stroke-width="1.3" />
<circle cx="617" cy="155" r="1.6" fill="#000"/>
<circle cx="625.5" cy="151.5" r="1.8" fill="#000"/>
<path d="M640,147.5 L643,150.5 M638,150 l-3,5" fill="none" stroke="#000" stroke-width="1.2" />
<ellipse cx="594.00" cy="159.50" rx="22.50" ry="14.00" transform="rotate(58 594.00 159.50)" fill="#fff" stroke="#000" stroke-width="1.6" />
<polygon points="594.09,185.28 605.59,178.78 582.41,140.22 570.91,146.72" fill="#fff" stroke="none"/>
<line x1="594.09" y1="185.28" x2="605.59" y2="178.78" stroke="#000" stroke-width="1.6"/>
<line x1="570.91" y1="146.72" x2="582.41" y2="140.22" stroke="#000" stroke-width="1.6"/>
<ellipse cx="582.50" cy="166.00" rx="22.50" ry="14.00" transform="rotate(58 582.50 166.00)" fill="#fff" stroke="#000" stroke-width="1.6" />
<ellipse cx="582.50" cy="166.00" rx="19.50" ry="11.30" transform="rotate(58 582.50 166.00)" fill="#fff" stroke="#000" stroke-width="1.4" />
<line x1="576.7" y1="176.9" x2="582.7" y2="173.6" stroke="#000" stroke-width="2.6"/>
<line x1="571.7" y1="169.8" x2="577.7" y2="166.5" stroke="#000" stroke-width="2.6"/>
<line x1="568.8" y1="162.0" x2="574.8" y2="158.7" stroke="#000" stroke-width="2.6"/>
<line x1="568.7" y1="154.9" x2="574.7" y2="151.6" stroke="#000" stroke-width="2.6"/>
<line x1="571.3" y1="150.1" x2="577.3" y2="146.8" stroke="#000" stroke-width="2.6"/>
<line x1="576.2" y1="148.4" x2="582.2" y2="145.1" stroke="#000" stroke-width="2.6"/>
<line x1="582.3" y1="150.2" x2="588.3" y2="146.9" stroke="#000" stroke-width="2.6"/>
<line x1="588.4" y1="155.2" x2="594.4" y2="151.9" stroke="#000" stroke-width="2.6"/>
<polyline points="586.02,176.67 584.68,175.57 583.38,174.34 582.12,173.00 580.93,171.56 579.81,170.04 578.77,168.45 577.82,166.81 576.98,165.12 576.24,163.42 575.63,161.70 575.13,160.00 574.76,158.32 574.52,156.68 574.41,155.10 574.44,153.59 574.60,152.17 574.89,150.85 575.32,149.64 575.86,148.56 576.53,147.61 577.31,146.80 578.20,146.14 579.18,145.64 580.26,145.31 581.41,145.14 582.63,145.13 583.90,145.29 585.22,145.62 586.57,146.11 587.94,146.76 589.31,147.56 590.68,148.50 592.03,149.58 593.34,150.78 594.60,152.09 595.81,153.51 596.95,155.01 598.01,156.59 598.97,158.22 599.84,159.90" fill="none" stroke="#000" stroke-width="1.3" />
<ellipse cx="592.50" cy="162.00" rx="6.50" ry="4.50" transform="rotate(58 592.50 162.00)" fill="#000" stroke="#000" stroke-width="0" />
<ellipse cx="591.00" cy="164.00" rx="2.20" ry="1.50" transform="rotate(58 591.00 164.00)" fill="#fff" stroke="#000" stroke-width="0" />
<path d="M586,153.5 C590,151.5 595,152.5 597,156.5 M585,170.5 C588,173.5 592,173.5 595,170.5" fill="none" stroke="#000" stroke-width="1.6" />
<path d="M591,147 q4,6 2,12 M599,152 l3,8" fill="none" stroke="#000" stroke-width="1.3" />
<path d="M606,150 L612,158 L620,158 L626,154 L620,152 Z" fill="#000" stroke="#000" stroke-width="0.8" />
<circle cx="538.5" cy="143.5" r="2.8" fill="#000"/>
<polyline points="531.3,143 536,143" fill="none" stroke="#000" stroke-width="1.1" stroke-linejoin="miter"/>
<polyline points="538.5,143.5 549,148.5" fill="none" stroke="#000" stroke-width="1.0" stroke-linejoin="miter"/>
<path d="M547,150 C546.5,146.5 549.5,145.5 552,147.5 C553.5,152 557,156 563,158.5 C566.5,160.5 566,164.5 563,165.8 C556,166 549,162 547,150 Z" fill="#fff" stroke="#000" stroke-width="1.6" />
<path d="M548.5,153 C551,158 556,161 562,162.5" fill="none" stroke="#000" stroke-width="1.0" />
<ellipse cx="550.30" cy="149.50" rx="1.80" ry="2.30" transform="rotate(0 550.30 149.50)" fill="#000" stroke="#000" stroke-width="0" />
<polyline points="537.4,159.8 546.8,159.8" fill="none" stroke="#000" stroke-width="1.1" stroke-linejoin="miter"/>
<path d="M646,131 L718,90.5 M647.5,134 L719.5,93.5" fill="none" stroke="#000" stroke-width="1.2" />
<line x1="646" y1="132.5" x2="663" y2="123" stroke="#000" stroke-width="4"/>
<path d="M719,69.5 C722,66.5 728,68 731.5,72 C734,76 734,83 731.5,88.5 C729.5,93 727.5,98 725.5,102 C724,105 720,105.5 718,103 C716,100 716.5,96 717.5,92.5 L716.5,89 C719.5,86 721.5,82 721,77.5 C720.5,74 718.5,71.5 719,69.5 Z" fill="#fff" stroke="#000" stroke-width="1.3" />
<path d="M718.5,68.5 C720.5,66 724,67 725.5,70 L724,75 L720.5,74 Z" fill="#000" stroke="#000" stroke-width="1" />
<path d="M725,75 C728.5,79 728.5,85 726,90 C724,94 722.5,97 722,100" fill="none" stroke="#000" stroke-width="1.1" />
<path d="M716.5,92 L723,90 M717.5,97 L722,97" fill="none" stroke="#000" stroke-width="1.0" />
<polyline points="681.3,96.5 681.3,107.6" fill="none" stroke="#000" stroke-width="1.1" stroke-linejoin="miter"/>
<line x1="661.5" y1="77.5" x2="690.5" y2="60.8" stroke="#000" stroke-width="3.2" stroke-linecap="round"/>
<line x1="661.5" y1="77.5" x2="690.5" y2="60.8" stroke="#fff" stroke-width="1.0" stroke-linecap="round"/>
<circle cx="661.3" cy="77.8" r="1.7" fill="#000"/>
<polyline points="675.9,57.2 675.9,66.3" fill="none" stroke="#000" stroke-width="1.1" stroke-linejoin="miter"/>
<line x1="683" y1="131.2" x2="702" y2="121.9" stroke="#000" stroke-width="3" stroke-linecap="round"/>
<line x1="683" y1="131.2" x2="702" y2="121.9" stroke="#fff" stroke-width="0.9" stroke-linecap="round"/>
<polyline points="676.3,132.8 682.3,132.8" fill="none" stroke="#000" stroke-width="1.1" stroke-linejoin="miter"/>
<path d="M697.5,133.2 C699,131.2 702.5,132.2 706,134 L722,142 C727,145 731,147.5 733.2,151.2 L722.5,150.8 C716,147 708,142 702,138.8 C699,137.2 697,135.5 697.5,133.2 Z" fill="#fff" stroke="#000" stroke-width="1.3" />
<path d="M722.5,150.8 L733.2,151.2 C736.5,155.5 738.7,161 738.6,167 C738.5,175 735,181.5 729,187 C723,192.5 717,196.5 713,197.8 C709,198.4 705,195.5 703.3,190 C702.5,187 705,185 709,182.5 C716,178 722,173 724,168 C725.5,163 725,157.5 722.5,150.8 Z" fill="#000" stroke="#000" stroke-width="1.2" />
<path d="M723.5,151.5 L732.5,152 L733.5,155 L724.5,155 Z" fill="#fff" stroke="#000" stroke-width="0" />
<path d="M705,191 C711,188.5 717,185 723,180" fill="none" stroke="#fff" stroke-width="1.5" />
<path d="M713,192 C719,189 725,184.5 729,180" fill="none" stroke="#fff" stroke-width="0.8" />
<circle cx="727.5" cy="159" r="0.9" fill="#fff"/>
<circle cx="734" cy="159.5" r="0.9" fill="#fff"/>
<circle cx="731.5" cy="171" r="0.9" fill="#fff"/>
<circle cx="727" cy="175.5" r="0.9" fill="#fff"/>
<circle cx="733" cy="165.5" r="0.9" fill="#fff"/>
<circle cx="720" cy="183" r="0.9" fill="#fff"/>
<circle cx="698.3" cy="133.8" r="1.9" fill="#000"/>
<circle cx="744.5" cy="183.8" r="4.2" fill="#000"/>
<polyline points="738.5,181 741.5,182.5" fill="none" stroke="#000" stroke-width="1.5" stroke-linejoin="miter"/>
<polyline points="744.8,190.6 744.8,198.7" fill="none" stroke="#000" stroke-width="1.1" stroke-linejoin="miter"/>
<polyline points="720.6,195.6 720.6,201.7" fill="none" stroke="#000" stroke-width="1.1" stroke-linejoin="miter"/>
<path d="M240,256 L256,238.5 L268,245.5 L268.5,269.5 L257,281.5 L240,280 Z" fill="#fff" stroke="#000" stroke-width="1.4" />
<path d="M256,240.5 L267,247 M254.5,243 L265.5,249.5" fill="none" stroke="#000" stroke-width="1.1" />
<path d="M171.7,239.2 C172,232 175,226 179.6,221.2 C186,215.5 194,211 205,208.3 C215,206.5 228,206.8 237,209 C243,210.5 247,213 250,217.5 C254,224 256,232 255.6,240 C255,248 251.5,255 246,259.5 C241,263 236.5,266 234,271 C232.5,275 233,279 236,281.5 L232,281 C224,279 210,272 203,262 C199,256 197,252 195.5,249.2 C188,248 181,246.5 176.5,244.4 C173.5,242.5 172,241 171.7,239.2 Z" fill="#fff" stroke="#000" stroke-width="1.6" />
<path d="M176,238 C177,232 180,227 184,223 C190,218 198,214 207,212 C216,210.5 228,211 236,213 C242,215 246,219 249,224.5 C252,231 252.5,240 251,247 C249,253 244.5,257 240,260.5 C235,264 231.5,268 230.5,273" fill="none" stroke="#000" stroke-width="1.2" />
<path d="M180.7,228.6 C186,222 193,218 199.7,216 M236,216 C242,219 246,224 248,230" fill="none" stroke="#000" stroke-width="0.9" />
<path d="M196,214.5 C203,211.5 212,210.5 222,211 L221,214 C213,214 205,215.5 198,218.5 Z" fill="#000" stroke="#000" stroke-width="0.8" />
<circle cx="184.9" cy="236" r="1.1" fill="#000"/>
<ellipse cx="216.80" cy="252.50" rx="27.00" ry="18.50" transform="rotate(62 216.80 252.50)" fill="#fff" stroke="#000" stroke-width="1.8" />
<polyline points="207.55,267.47 206.39,266.13 205.28,264.70 204.23,263.21 203.26,261.66 202.36,260.06 201.54,258.42 200.81,256.74 200.17,255.04 199.62,253.32 199.17,251.60 198.82,249.89 198.57,248.18 198.42,246.51 198.38,244.87 198.44,243.27 198.60,241.72 198.86,240.23 199.23,238.81 199.69,237.47 200.25,236.21 200.90,235.05 201.65,233.98 202.47,233.02 203.38,232.16 204.37,231.42 205.42,230.80 206.54,230.31 207.71,229.93 208.94,229.68 210.21,229.57 211.52,229.58 212.85,229.71 214.21,229.98 215.59,230.38 216.97,230.89 218.35,231.53 219.72,232.29 221.07,233.16 222.41,234.14 223.70,235.22" fill="none" stroke="#000" stroke-width="1.2" />
<polyline points="203.65,264.50 202.76,263.15 201.92,261.76 201.15,260.33 200.43,258.87 199.78,257.39 199.19,255.89 198.68,254.37 198.23,252.85 197.86,251.33 197.56,249.81 197.34,248.30 197.19,246.81 197.12,245.34 197.12,243.90 197.20,242.49 197.36,241.12 197.60,239.80 197.91,238.52 198.29,237.30 198.75,236.14 199.27,235.04 199.87,234.01 200.53,233.06 201.25,232.18 202.04,231.37 202.88,230.65 203.78,230.02 204.72,229.48 205.72,229.02 206.76,228.65 207.83,228.38 208.95,228.21 210.09,228.12 211.26,228.14 212.45,228.24 213.66,228.45 214.88,228.74 216.11,229.13 217.34,229.61 218.57,230.18" fill="none" stroke="#000" stroke-width="2.0" />
<path d="M219,221.5 C227,220.5 234,223 238,229 C241,234 240.5,239 238.5,241.5 C236.5,240 235,236 233.5,232 C231,227.5 226,225 220,225 Z" fill="#fff" stroke="#000" stroke-width="1.4" />
<path d="M203,230.5 C210,226 220,224.5 228,227 C234,229.5 238,234 240,239" fill="none" stroke="#000" stroke-width="1.5" />
<path d="M194.5,225.4 L197,240 M190,228 l6,-3 l5,2 M197,222 l4,-6 l6,2 l-3,5z" fill="none" stroke="#000" stroke-width="1.1" />
<ellipse cx="219.00" cy="251.50" rx="5.80" ry="4.30" transform="rotate(65 219.00 251.50)" fill="#000" stroke="#000" stroke-width="0" />
<ellipse cx="219.60" cy="251.00" rx="3.20" ry="2.10" transform="rotate(65 219.60 251.00)" fill="#fff" stroke="#000" stroke-width="0" />
<path d="M212,247 l0,13 M212,247 l7,-4 l3,0" fill="none" stroke="#000" stroke-width="0.8" />
<path d="M237,268 C239,262 245,259 249,260 C251,263 250,268 247,272 C244,276 240,279 237.5,276 Z" fill="#000" stroke="#000" stroke-width="0.5" />
<path d="M244,279 C247,275 252,272 256,273 C258,276 256,280 251,282 C248,283 245,282 244,279 Z" fill="#000" stroke="#000" stroke-width="0.5" />
<path d="M252,262 C255,258 260,256 262,258 C263,261 261,265 257,267 C254,268 252,266 252,262 Z" fill="#000" stroke="#000" stroke-width="0.5" />
<path d="M258,271 C261,268 265,267 267,269 C267,273 264,276 260,277 Z" fill="#000" stroke="#000" stroke-width="0.5" />
<path d="M257,250 C260,248 264,249 265,251 C264,254 261,256 258,255 Z" fill="#000" stroke="#000" stroke-width="0.5" />
<ellipse cx="242" cy="269" rx="1.3" ry="2.2" fill="#fff" transform="rotate(-30 242 269)"/>
<ellipse cx="249" cy="277.5" rx="1.5" ry="1.0" fill="#fff" transform="rotate(-30 249 277.5)"/>
<ellipse cx="257" cy="262" rx="1.2" ry="1.6" fill="#fff" transform="rotate(-30 257 262)"/>
<path d="M240,262 L262,252 M249,268 L266,262 M239,276 L247,272" fill="none" stroke="#000" stroke-width="1.0" />
<polyline points="218.6,200.6 218.6,205.6" fill="none" stroke="#000" stroke-width="0.9" stroke-linejoin="miter"/>
<ellipse cx="47.40" cy="350.60" rx="10.60" ry="7.00" transform="rotate(58 47.40 350.60)" fill="#fff" stroke="#000" stroke-width="2.3" />
<ellipse cx="47.60" cy="350.40" rx="7.40" ry="4.40" transform="rotate(58 47.60 350.40)" fill="#fff" stroke="#000" stroke-width="1.0" />
<polyline points="45,332 45,339.3" fill="none" stroke="#000" stroke-width="1.1" stroke-linejoin="miter"/>
<ellipse cx="77.00" cy="333.50" rx="6.00" ry="4.20" transform="rotate(60 77.00 333.50)" fill="#fff" stroke="#000" stroke-width="1.4" />
<polygon points="75.46,341.22 79.96,338.72 74.04,328.28 69.54,330.78" fill="#fff" stroke="none"/>
<line x1="75.46" y1="341.22" x2="79.96" y2="338.72" stroke="#000" stroke-width="1.4"/>
<line x1="69.54" y1="330.78" x2="74.04" y2="328.28" stroke="#000" stroke-width="1.4"/>
<ellipse cx="72.50" cy="336.00" rx="6.00" ry="4.20" transform="rotate(60 72.50 336.00)" fill="#fff" stroke="#000" stroke-width="1.4" />
<ellipse cx="72.00" cy="336.50" rx="6.20" ry="4.40" transform="rotate(60 72.00 336.50)" fill="#000" stroke="#000" stroke-width="0" />
<ellipse cx="73.00" cy="335.80" rx="3.20" ry="2.20" transform="rotate(60 73.00 335.80)" fill="#fff" stroke="#000" stroke-width="0" />
<path d="M79,333 l3,-2 l1.5,3 l-3,2z" fill="#000" stroke="#000" stroke-width="0.8" />
<polyline points="72.4,320.2 72.4,327.4" fill="none" stroke="#000" stroke-width="1.1" stroke-linejoin="miter"/>
<line x1="84.5" y1="342.8" x2="90" y2="346.2" stroke="#000" stroke-width="3" stroke-linecap="round"/>
<line x1="84.5" y1="342.8" x2="90" y2="346.2" stroke="#fff" stroke-width="1" stroke-linecap="round"/>
<polyline points="89,350 89,357" fill="none" stroke="#000" stroke-width="1.1" stroke-linejoin="miter"/>
<ellipse cx="99.50" cy="320.00" rx="7.20" ry="5.20" transform="rotate(60 99.50 320.00)" fill="#fff" stroke="#000" stroke-width="1.4" />
<polygon points="99.59,328.24 103.09,326.24 95.91,313.76 92.41,315.76" fill="#fff" stroke="none"/>
<line x1="99.59" y1="328.24" x2="103.09" y2="326.24" stroke="#000" stroke-width="1.4"/>
<line x1="92.41" y1="315.76" x2="95.91" y2="313.76" stroke="#000" stroke-width="1.4"/>
<ellipse cx="96.00" cy="322.00" rx="7.20" ry="5.20" transform="rotate(60 96.00 322.00)" fill="#fff" stroke="#000" stroke-width="1.4" />
<ellipse cx="96.00" cy="322.00" rx="7.20" ry="5.20" transform="rotate(60 96.00 322.00)" fill="#000" stroke="#000" stroke-width="0" />
<ellipse cx="96.50" cy="321.60" rx="3.80" ry="2.50" transform="rotate(60 96.50 321.60)" fill="#fff" stroke="#000" stroke-width="0" />
<polyline points="93.3,308.3 93.3,314.3" fill="none" stroke="#000" stroke-width="1.1" stroke-linejoin="miter"/>
<ellipse cx="120.00" cy="308.95" rx="5.60" ry="4.50" transform="rotate(60 120.00 308.95)" fill="#fff" stroke="#000" stroke-width="1.6" />
<polyline points="117.6,296.4 117.6,302.4" fill="none" stroke="#000" stroke-width="1.1" stroke-linejoin="miter"/>
<path d="M137,290 C136,286 139,284.5 142,285 C147,286 151,292 151,299 C151,304 148,307.5 144,307 C140,306 137,300 137,290 Z" fill="#fff" stroke="#000" stroke-width="1.5" />
<path d="M138,287 L144,284.5" fill="none" stroke="#000" stroke-width="2.5" />
<ellipse cx="143.50" cy="296.50" rx="2.30" ry="3.50" transform="rotate(-20 143.50 296.50)" fill="#fff" stroke="#000" stroke-width="1.4" />
<path d="M138.5,306 C140,310 144,310 146,307" fill="none" stroke="#000" stroke-width="2.3" />
<polyline points="140.2,276.2 140.2,284.5" fill="none" stroke="#000" stroke-width="1.1" stroke-linejoin="miter"/>
<polyline points="140.5,308.5 140.5,313" fill="none" stroke="#000" stroke-width="1.1" stroke-linejoin="miter"/>
<path d="M141.5,335.5 C136,336 133,331 133,326 C133,320 137,316 142,315.5 M145,315 C148,319 149,326 147.5,333 C147,335.5 147.5,336.5 148,337" fill="none" stroke="#000" stroke-width="1.8" />
<polyline points="148.6,326.2 156.9,326.2" fill="none" stroke="#000" stroke-width="1.1" stroke-linejoin="miter"/>
<ellipse cx="162.80" cy="283.60" rx="8.60" ry="5.80" transform="rotate(52 162.80 283.60)" fill="#fff" stroke="#000" stroke-width="1.9" />
<ellipse cx="163.00" cy="283.40" rx="2.60" ry="1.80" transform="rotate(52 163.00 283.40)" fill="#000" stroke="#000" stroke-width="0" />
<polyline points="161.7,265.5 161.7,276.2" fill="none" stroke="#000" stroke-width="1.1" stroke-linejoin="miter"/>
<path d="M175,268 L181,263.5 L188,265.5 L190.2,272 L188.5,279.5 L182.5,282.3 L176,279.5 L173.8,273 Z" fill="#000" stroke="#000" stroke-width="1" />
<path d="M177,271 L183,267.5 L188,270" fill="none" stroke="#fff" stroke-width="0.8" />
<polyline points="180.3,283.7 180.3,291" fill="none" stroke="#000" stroke-width="1.1" stroke-linejoin="miter"/>
<path d="M195.5,288 C196,286 199,286 202.8,287.5 L199.5,293 Z" fill="#000" stroke="#000" stroke-width="0.8" />
<polyline points="197.6,293.1 197.6,300.4" fill="none" stroke="#000" stroke-width="1.1" stroke-linejoin="miter"/>
<ellipse cx="285.05" cy="244.45" rx="5.35" ry="2.87" transform="rotate(60 285.05 244.45)" fill="#fff" stroke="#000" stroke-width="1.5" />
<polyline points="285.8,249.3 285.8,254.2" fill="none" stroke="#000" stroke-width="1.1" stroke-linejoin="miter"/>
<path d="M283.5,221.5 C285.5,219 289,220 291,222.5 L299,229.5 L305,231 C307.5,232 307.5,236 306,239 L302,242.5 C299,243.5 296.5,242 296,240 L294,236 L286,228 C283,226 282.5,223.5 283.5,221.5 Z" fill="#fff" stroke="#000" stroke-width="1.4" />
<ellipse cx="298.50" cy="236.50" rx="3.00" ry="2.30" transform="rotate(60 298.50 236.50)" fill="#000" stroke="#000" stroke-width="0" />
<ellipse cx="298.80" cy="236.20" rx="1.30" ry="0.90" transform="rotate(60 298.80 236.20)" fill="#fff" stroke="#000" stroke-width="0" />
<ellipse cx="286.50" cy="223.50" rx="1.50" ry="1.10" transform="rotate(60 286.50 223.50)" fill="#000" stroke="#000" stroke-width="0" />
<polyline points="304.5,243.2 304.5,249.3" fill="none" stroke="#000" stroke-width="1.1" stroke-linejoin="miter"/>
<circle cx="317" cy="224.5" r="3.3" fill="#000"/>
<polyline points="318,229.8 318,236" fill="none" stroke="#000" stroke-width="1.1" stroke-linejoin="miter"/>
<path d="M333.5,345.3 L307.5,344.5 C304.5,344.5 303.5,347 305.5,349 L310.5,353 L313,351 L309.5,348.3 L333.5,348.6 C334.5,348 334.5,346 333.5,345.3 Z" fill="#fff" stroke="#000" stroke-width="1.3" />
<polyline points="315.7,337.9 315.7,342.6" fill="none" stroke="#000" stroke-width="1.1" stroke-linejoin="miter"/>
<path d="M337,345 L343,342.8 L348.5,345.5 L349.5,351 L344,353.5 L338,351 Z" fill="#fff" stroke="#000" stroke-width="1.3" />
<ellipse cx="343.00" cy="348.00" rx="3.50" ry="2.80" transform="rotate(30 343.00 348.00)" fill="#fff" stroke="#000" stroke-width="1.3" />
<polyline points="345.2,353.3 345.2,360.5" fill="none" stroke="#000" stroke-width="1.1" stroke-linejoin="miter"/>
<line x1="354.5" y1="349.3" x2="381.5" y2="350" stroke="#000" stroke-width="6" stroke-linecap="round"/>
<polyline points="366.2,352 366.2,358" fill="none" stroke="#000" stroke-width="1.1" stroke-linejoin="miter"/>
<ellipse cx="399.50" cy="352.00" rx="5.20" ry="3.40" transform="rotate(80 399.50 352.00)" fill="#fff" stroke="#000" stroke-width="1.5" />
<polygon points="389.90,356.65 399.90,357.15 399.10,346.85 389.10,346.35" fill="#fff" stroke="none"/>
<line x1="389.90" y1="356.65" x2="399.90" y2="357.15" stroke="#000" stroke-width="1.5"/>
<line x1="389.10" y1="346.35" x2="399.10" y2="346.85" stroke="#000" stroke-width="1.5"/>
<ellipse cx="389.50" cy="351.50" rx="5.20" ry="3.40" transform="rotate(80 389.50 351.50)" fill="#fff" stroke="#000" stroke-width="1.5" />
<ellipse cx="389.50" cy="351.50" rx="5.20" ry="3.40" transform="rotate(80 389.50 351.50)" fill="#fff" stroke="#000" stroke-width="1.8" />
<path d="M387.5,349 l2,4" fill="none" stroke="#000" stroke-width="1.0" />
<polyline points="392,358.5 392,364" fill="none" stroke="#000" stroke-width="1.1" stroke-linejoin="miter"/>
<path d="M389.5,293.5 C394,294 400,298 404,303 C407.5,309 408,318 406,323 C403,328 395,331.5 386,332 C380,332.5 376,331 376.5,329 C378,327 383,326 389,324.5 C392,320 392,317 389.5,313.5 C386,310.5 380,309 377,308 C380,305 385,302 390,299.5 C390,298 389,296 389.5,293.5 Z" fill="#fff" stroke="#000" stroke-width="1.5" />
<path d="M391,296 C397,300 402,306 403.5,313 M378,330 C385,330 393,328 398,325" fill="none" stroke="#000" stroke-width="1.0" />
<ellipse cx="398.00" cy="314.00" rx="3.40" ry="4.40" transform="rotate(-20 398.00 314.00)" fill="#000" stroke="#000" stroke-width="0" />
<ellipse cx="398.60" cy="313.60" rx="1.20" ry="1.90" transform="rotate(-20 398.60 313.60)" fill="#fff" stroke="#000" stroke-width="0" />
<path d="M389.5,294 C392,293.5 396,295.5 398.5,298.5 L396,301 C394,299 391.5,298 390,297.5 Z" fill="#000" stroke="#000" stroke-width="1" />
<path d="M379,329 C383,328 389,327 394,325.5" fill="none" stroke="#000" stroke-width="1.8" />
<polyline points="409,314.5 421,314.5" fill="none" stroke="#000" stroke-width="1.1" stroke-linejoin="miter"/>
<polyline points="432.5,334.5 437,337" fill="none" stroke="#000" stroke-width="3.0" stroke-linejoin="miter"/>
<ellipse cx="439.5" cy="338.5" rx="2.8" ry="3.6" fill="#fff" stroke="#000" stroke-width="1.8" transform="rotate(-30 439.5 338.5)"/>
<polyline points="443.5,338.5 447,338.5" fill="none" stroke="#000" stroke-width="1.1" stroke-linejoin="miter"/>
<path d="M221,386 C219,380 222,374 229,371.5 C238,369.5 255,369 265,369.5 C271,370 274,373 273.5,378 C273,383 270,390 266,394 C262,398 256,398 253,395 C249,391 248,388 244,389 C238,391 234,394 228,394 C223,393.5 221.5,390 221,386 Z" fill="#fff" stroke="#000" stroke-width="1.6" />
<path d="M224,388 C228,391 236,389 243,385.5 C250,382 256,377 262,376.5" fill="none" stroke="#000" stroke-width="1.0" />
<ellipse cx="232.50" cy="379.00" rx="4.80" ry="3.60" transform="rotate(0 232.50 379.00)" fill="#fff" stroke="#000" stroke-width="1.5" />
<ellipse cx="232.80" cy="379.30" rx="2.20" ry="1.60" transform="rotate(0 232.80 379.30)" fill="#fff" stroke="#000" stroke-width="1.0" />
<ellipse cx="264.00" cy="385.30" rx="4.80" ry="6.00" transform="rotate(-25 264.00 385.30)" fill="#fff" stroke="#000" stroke-width="1.6" />
<ellipse cx="264.30" cy="385.30" rx="2.50" ry="3.60" transform="rotate(-25 264.30 385.30)" fill="#fff" stroke="#000" stroke-width="1.0" />
<polyline points="260.4,397.5 260.4,403.9" fill="none" stroke="#000" stroke-width="1.1" stroke-linejoin="miter"/>
<ellipse cx="250.8" cy="354.2" rx="4.3" ry="3.8" fill="#000"/>
<ellipse cx="251.8" cy="353.6" rx="1.8" ry="1.4" fill="#fff"/>
<line x1="249" y1="357.5" x2="245.5" y2="362" stroke="#000" stroke-width="3" stroke-linecap="round"/>
<polyline points="254.8,355.7 259.5,355.7" fill="none" stroke="#000" stroke-width="1.1" stroke-linejoin="miter"/>
<ellipse cx="288.00" cy="399.60" rx="4.30" ry="4.30" transform="rotate(0 288.00 399.60)" fill="#fff" stroke="#000" stroke-width="1.6" />
<polyline points="285,402 291,397" fill="none" stroke="#000" stroke-width="1.0" stroke-linejoin="miter"/>
<polyline points="288,405 288,419.7" fill="none" stroke="#000" stroke-width="1.1" stroke-linejoin="miter"/>
<ellipse cx="318.50" cy="416.50" rx="4.60" ry="5.20" transform="rotate(-30 318.50 416.50)" fill="#fff" stroke="#000" stroke-width="1.8" />
<line x1="309.5" y1="411.5" x2="314" y2="414" stroke="#000" stroke-width="3" stroke-linecap="round"/>
<polyline points="317.6,422.9 317.6,432.4" fill="none" stroke="#000" stroke-width="1.1" stroke-linejoin="miter"/>
<ellipse cx="212.50" cy="409.50" rx="5.60" ry="4.80" transform="rotate(-40 212.50 409.50)" fill="#fff" stroke="#000" stroke-width="1.6" />
<polygon points="222.27,406.63 215.97,412.83 209.03,406.17 215.33,399.97" fill="#fff" stroke="none"/>
<line x1="222.27" y1="406.63" x2="215.97" y2="412.83" stroke="#000" stroke-width="1.6"/>
<line x1="215.33" y1="399.97" x2="209.03" y2="406.17" stroke="#000" stroke-width="1.6"/>
<ellipse cx="218.80" cy="403.30" rx="5.60" ry="4.80" transform="rotate(-40 218.80 403.30)" fill="#fff" stroke="#000" stroke-width="1.6" />
<polyline points="198,406.4 207.5,406.4" fill="none" stroke="#000" stroke-width="1.1" stroke-linejoin="miter"/>
<ellipse cx="200.00" cy="425.00" rx="6.20" ry="5.80" transform="rotate(0 200.00 425.00)" fill="#fff" stroke="#000" stroke-width="2.4" />
<ellipse cx="200.30" cy="424.70" rx="3.20" ry="2.60" transform="rotate(0 200.30 424.70)" fill="#fff" stroke="#000" stroke-width="1.0" />
<polyline points="187,423 193.5,423" fill="none" stroke="#000" stroke-width="1.1" stroke-linejoin="miter"/>
<ellipse cx="181.00" cy="451.00" rx="8.20" ry="7.20" transform="rotate(-30 181.00 451.00)" fill="#fff" stroke="#000" stroke-width="2.4" />
<polygon points="191.02,451.27 186.52,455.77 175.48,446.23 179.98,441.73" fill="#fff" stroke="none"/>
<line x1="191.02" y1="451.27" x2="186.52" y2="455.77" stroke="#000" stroke-width="2.4"/>
<line x1="179.98" y1="441.73" x2="175.48" y2="446.23" stroke="#000" stroke-width="2.4"/>
<ellipse cx="185.50" cy="446.50" rx="8.20" ry="7.20" transform="rotate(-30 185.50 446.50)" fill="#fff" stroke="#000" stroke-width="2.4" />
<ellipse cx="185.50" cy="446.50" rx="8.20" ry="7.20" transform="rotate(-30 185.50 446.50)" fill="#fff" stroke="#000" stroke-width="3.2" />
<ellipse cx="185.80" cy="446.20" rx="4.60" ry="3.80" transform="rotate(-30 185.80 446.20)" fill="#fff" stroke="#000" stroke-width="1.6" />
<ellipse cx="185.80" cy="446.20" rx="2.20" ry="1.40" transform="rotate(-30 185.80 446.20)" fill="#000" stroke="#000" stroke-width="0" />
<polyline points="166,442.8 173.5,442.8" fill="none" stroke="#000" stroke-width="1.1" stroke-linejoin="miter"/>
<ellipse cx="174.00" cy="462.80" rx="5.70" ry="5.80" transform="rotate(0 174.00 462.80)" fill="#fff" stroke="#000" stroke-width="2.0" />
<ellipse cx="174.00" cy="462.80" rx="1.80" ry="1.60" transform="rotate(0 174.00 462.80)" fill="#000" stroke="#000" stroke-width="0" />
<polyline points="158,461.8 166.5,461.8" fill="none" stroke="#000" stroke-width="1.1" stroke-linejoin="miter"/>
<path d="M58.8,456.4 C58,470 59,487 62,499 C66,512 76,525 88,535 C100,545 115,553 128,558 C134,560 139,559 142,554 C146,546 149,535 152,523" fill="none" stroke="#000" stroke-width="1.5" />
<path d="M62.3,456.4 C61.5,470 62.5,486 65.5,498 C69.5,510 79,522.5 90.5,532 C102,541.5 117,549.5 129.5,554.5 C134,556 137.5,555 139.5,551 C143,543 146,533 149,522" fill="none" stroke="#000" stroke-width="1.5" />
<path d="M149,524 C147,512 148,505 150,499 C146,495 144.5,488 146,483 C148.5,478 154,476.5 159,478 C165,480 168,486 167,492 C166,498 163,502 161,506 C159,512 157,518 152.5,524 Z" fill="#fff" stroke="#000" stroke-width="1.5" />
<ellipse cx="157.00" cy="487.00" rx="6.00" ry="7.50" transform="rotate(-30 157.00 487.00)" fill="#fff" stroke="#000" stroke-width="2.4" />
<path d="M154,487 l0,4 l5,1.5 l0,-4z" fill="#fff" stroke="#000" stroke-width="1.2" />
<ellipse cx="156.50" cy="485.00" rx="2.50" ry="2.00" transform="rotate(0 156.50 485.00)" fill="#fff" stroke="#000" stroke-width="1.4" />
<path d="M152,497 C156,500 158,504 156,513" fill="none" stroke="#000" stroke-width="1" />
<polyline points="168,507.5 175,507.5" fill="none" stroke="#000" stroke-width="1.1" stroke-linejoin="miter"/>
<path d="M56,448 C55,442 58,436 63,430 C69,424 77,418 83,416 C87,415 89,418 88.5,422 C88,428 85,433 80,437 C74,442 68,448 64,453 C61,457 57,455 56,448 Z" fill="#fff" stroke="#000" stroke-width="1.5" />
<path d="M58.5,448 C58.5,443 61,438 65,433 C70,427 77,421 83,419 C86,418.5 87,421 86,424" fill="none" stroke="#000" stroke-width="1.0" />
<path d="M62,448 C66,443 71,438 76,434" fill="none" stroke="#000" stroke-width="1.0" />
<ellipse cx="79.50" cy="428.00" rx="3.40" ry="4.20" transform="rotate(-30 79.50 428.00)" fill="#fff" stroke="#000" stroke-width="1.4" />
<path d="M82,420.5 l3,1 l-1,3 z M84,430 l2,-2 l0.5,3 z M75,425 l2,-2" fill="#000" stroke="#000" stroke-width="1.2" />
<ellipse cx="61.00" cy="449.50" rx="2.20" ry="2.20" transform="rotate(0 61.00 449.50)" fill="#fff" stroke="#000" stroke-width="1.3" />
<line x1="51" y1="413" x2="59.5" y2="417" stroke="#000" stroke-width="3.8" stroke-linecap="round"/>
<ellipse cx="49" cy="411.5" rx="4.2" ry="5" fill="#fff" stroke="#000" stroke-width="2.4"/>
<polyline points="44.3,419 44.3,428.3" fill="none" stroke="#000" stroke-width="1.1" stroke-linejoin="miter"/>
<ellipse cx="448.5" cy="285.2" rx="2.6" ry="3.4" fill="#000"/>
<line x1="448.5" y1="285.2" x2="456.5" y2="280.5" stroke="#000" stroke-width="3" stroke-linecap="round"/>
<ellipse cx="457.5" cy="290.8" rx="2.6" ry="3.4" fill="#000"/>
<line x1="457.5" y1="290.8" x2="465" y2="286.3" stroke="#000" stroke-width="3" stroke-linecap="round"/>
<polyline points="458.6,293.5 458.6,299.5" fill="none" stroke="#000" stroke-width="1.1" stroke-linejoin="miter"/>
<ellipse cx="427.00" cy="252.00" rx="3.30" ry="4.00" transform="rotate(0 427.00 252.00)" fill="#000" stroke="#000" stroke-width="0" />
<ellipse cx="449.50" cy="254.50" rx="3.30" ry="4.00" transform="rotate(0 449.50 254.50)" fill="#000" stroke="#000" stroke-width="0" />
<ellipse cx="438.25" cy="250.30" rx="12.58" ry="10.07" transform="rotate(60 438.25 250.30)" fill="#fff" stroke="#000" stroke-width="2.0" />
<ellipse cx="437.75" cy="249.75" rx="8.99" ry="7.99" transform="rotate(60 437.75 249.75)" fill="#fff" stroke="#000" stroke-width="1.2" />
<polyline points="430,257 447,245.5" fill="none" stroke="#000" stroke-width="1.0" stroke-linejoin="miter"/>
<polyline points="434.3,231 434.3,237.2" fill="none" stroke="#000" stroke-width="1.1" stroke-linejoin="miter"/>
<ellipse cx="472.00" cy="231.00" rx="9.80" ry="7.40" transform="rotate(62 472.00 231.00)" fill="#fff" stroke="#000" stroke-width="1.6" />
<polygon points="460.70,226.26 467.20,222.46 476.80,239.54 470.30,243.34" fill="#fff" stroke="none"/>
<line x1="460.70" y1="226.26" x2="467.20" y2="222.46" stroke="#000" stroke-width="1.6"/>
<line x1="470.30" y1="243.34" x2="476.80" y2="239.54" stroke="#000" stroke-width="1.6"/>
<ellipse cx="465.50" cy="234.80" rx="9.80" ry="7.40" transform="rotate(62 465.50 234.80)" fill="#fff" stroke="#000" stroke-width="1.6" />
<ellipse cx="465.50" cy="234.80" rx="9.80" ry="7.40" transform="rotate(62 465.50 234.80)" fill="#000" stroke="#000" stroke-width="0" />
<ellipse cx="465.80" cy="234.60" rx="5.00" ry="3.70" transform="rotate(62 465.80 234.60)" fill="none" stroke="#fff" stroke-width="1.0" />
<ellipse cx="466.00" cy="234.40" rx="1.80" ry="1.30" transform="rotate(62 466.00 234.40)" fill="#fff" stroke="#000" stroke-width="0" />
<polyline points="468.3,216.4 468.3,222.6" fill="none" stroke="#000" stroke-width="1.1" stroke-linejoin="miter"/>
<ellipse cx="486.45" cy="222.90" rx="6.80" ry="4.47" transform="rotate(60 486.45 222.90)" fill="#fff" stroke="#000" stroke-width="2.6" />
<polyline points="485,200.7 485,215.3" fill="none" stroke="#000" stroke-width="1.1" stroke-linejoin="miter"/>
<path d="M499,213 L519.5,201.5 L523,210.5 L503.5,219.5 Z" fill="#fff" stroke="#000" stroke-width="0.1" />
<polyline points="499,213 519.5,201.5" fill="none" stroke="#000" stroke-width="1.4" stroke-linejoin="miter"/>
<polyline points="503.5,219.5 523,210.5" fill="none" stroke="#000" stroke-width="1.4" stroke-linejoin="miter"/>
<ellipse cx="501.00" cy="216.30" rx="3.00" ry="4.60" transform="rotate(-25 501.00 216.30)" fill="#fff" stroke="#000" stroke-width="1.5" />
<path d="M507,210 l3,6 M513,207 l3,6" fill="none" stroke="#000" stroke-width="1" />
<path d="M517.5,203.5 C520,197 526,192.5 531,191.5 C535,191.5 536.5,196 535.5,201 C534,206 530,210 526,212 C522,213 519.5,210 517.5,203.5 Z" fill="#fff" stroke="#000" stroke-width="1.5" />
<path d="M521,199 l5,10 M524,196 l5,11 M527.5,193.5 l4.5,10 M531,192.5 l3,7" fill="none" stroke="#000" stroke-width="1.5" />
<path d="M519,201 C522,196 527,193 531,192" fill="none" stroke="#000" stroke-width="2.4" />
<ellipse cx="531.00" cy="202.00" rx="2.30" ry="4.30" transform="rotate(-20 531.00 202.00)" fill="#fff" stroke="#000" stroke-width="1.2" />
<polyline points="512.4,188 512.4,198.5" fill="none" stroke="#000" stroke-width="1.1" stroke-linejoin="miter"/>
<ellipse cx="542.65" cy="191.65" rx="3.88" ry="2.87" transform="rotate(60 542.65 191.65)" fill="#fff" stroke="#000" stroke-width="1.6" />
<polyline points="540.5,180.7 540.5,187" fill="none" stroke="#000" stroke-width="1.1" stroke-linejoin="miter"/>
<ellipse cx="557.75" cy="181.75" rx="5.48" ry="4.48" transform="rotate(60 557.75 181.75)" fill="#fff" stroke="#000" stroke-width="2.6" />
<ellipse cx="557.80" cy="181.80" rx="1.60" ry="1.30" transform="rotate(0 557.80 181.80)" fill="#000" stroke="#000" stroke-width="0" />
<polyline points="557.2,189 557.2,195.3" fill="none" stroke="#000" stroke-width="1.1" stroke-linejoin="miter"/>
<path d="M530.5,229 C531,227.5 533.5,227.5 537,229.5 L538.5,233.5 L534,234 Z" fill="#fff" stroke="#000" stroke-width="1.6" />
<polyline points="538,232.5 546,236.5" fill="none" stroke="#000" stroke-width="1.0" stroke-linejoin="miter"/>
<circle cx="544.7" cy="236" r="1.3" fill="#000"/>
<polyline points="534.3,222.5 534.3,227.7" fill="none" stroke="#000" stroke-width="1.1" stroke-linejoin="miter"/>
<line x1="546" y1="247" x2="560.5" y2="239.5" stroke="#000" stroke-width="5" stroke-linecap="round"/>
<line x1="546" y1="247" x2="560.5" y2="239.5" stroke="#fff" stroke-width="2.6" stroke-linecap="round"/>
<ellipse cx="546.00" cy="247.00" rx="2.30" ry="2.60" transform="rotate(0 546.00 247.00)" fill="#000" stroke="#000" stroke-width="0" />
<polyline points="554,240 556,246" fill="none" stroke="#000" stroke-width="1" stroke-linejoin="miter"/>
<polyline points="562,238.5 576,229.8" fill="none" stroke="#000" stroke-width="1.0" stroke-linejoin="miter"/>
<circle cx="570" cy="233.5" r="1.2" fill="#000"/>
<polyline points="551,250 551,256" fill="none" stroke="#000" stroke-width="0.9" stroke-linejoin="miter"/>
<path d="M576.5,226 C577,223 581,223 582,226 C583,229 582,232 585,234.5 C587,236.5 586.5,239 584,239 C579,239 576,232 576.5,226 Z" fill="#fff" stroke="#000" stroke-width="1.4" />
<ellipse cx="579.00" cy="226.50" rx="2.40" ry="2.40" transform="rotate(0 579.00 226.50)" fill="#000" stroke="#000" stroke-width="0" />
<polyline points="579.5,219.4 579.5,224.3" fill="none" stroke="#000" stroke-width="1.1" stroke-linejoin="miter"/>
<circle cx="562" cy="236" r="2.3" fill="#000"/>
<ellipse cx="664.65" cy="227.15" rx="13.22" ry="8.12" transform="rotate(60 664.65 227.15)" fill="#fff" stroke="#000" stroke-width="1.3" />
<ellipse cx="664.70" cy="227.70" rx="3.91" ry="1.80" transform="rotate(60 664.70 227.70)" fill="#fff" stroke="#000" stroke-width="1.4" />
<polyline points="661.8,240.3 661.8,245.4" fill="none" stroke="#000" stroke-width="1.1" stroke-linejoin="miter"/>
<ellipse cx="685.90" cy="239.30" rx="15.41" ry="10.97" transform="rotate(55 685.90 239.30)" fill="#000" stroke="#000" stroke-width="0.1" />
<ellipse cx="686.25" cy="239.50" rx="12.18" ry="9.98" transform="rotate(55 686.25 239.50)" fill="none" stroke="#fff" stroke-width="1.6" stroke-dasharray="1.3 1.3"/>
<ellipse cx="687.50" cy="241.00" rx="9.73" ry="5.16" transform="rotate(55 687.50 241.00)" fill="#fff" stroke="#000" stroke-width="0.1" />
<ellipse cx="687.75" cy="241.25" rx="5.19" ry="3.71" transform="rotate(55 687.75 241.25)" fill="#fff" stroke="#000" stroke-width="1.4" />
<ellipse cx="688.00" cy="241.00" rx="1.80" ry="1.40" transform="rotate(0 688.00 241.00)" fill="#000" stroke="#000" stroke-width="0" />
<polyline points="686.4,219 686.4,225.2" fill="none" stroke="#000" stroke-width="1.1" stroke-linejoin="miter"/>
<circle cx="704.8" cy="243.3" r="1.8" fill="#000"/>
<polyline points="705,232.3 705,240.3" fill="none" stroke="#000" stroke-width="1.1" stroke-linejoin="miter"/>
<ellipse cx="709.05" cy="253.95" rx="3.96" ry="1.86" transform="rotate(60 709.05 253.95)" fill="#fff" stroke="#000" stroke-width="1.5" />
<polyline points="708.1,258.5 708.1,266.5" fill="none" stroke="#000" stroke-width="1.1" stroke-linejoin="miter"/>
<ellipse cx="720.20" cy="260.00" rx="3.80" ry="3.60" transform="rotate(0 720.20 260.00)" fill="#000" stroke="#000" stroke-width="0" />
<ellipse cx="721.00" cy="259.00" rx="1.40" ry="1.10" transform="rotate(0 721.00 259.00)" fill="#fff" stroke="#000" stroke-width="0" />
<polyline points="720.6,247.4 720.6,255.4" fill="none" stroke="#000" stroke-width="1.1" stroke-linejoin="miter"/>
<ellipse cx="734.50" cy="268.00" rx="3.80" ry="4.50" transform="rotate(-25 734.50 268.00)" fill="#fff" stroke="#000" stroke-width="1.8" />
<line x1="728.5" y1="264.5" x2="731" y2="266" stroke="#000" stroke-width="3.5" stroke-linecap="round"/>
<polyline points="733.7,272.6 733.7,278.6" fill="none" stroke="#000" stroke-width="1.1" stroke-linejoin="miter"/>
<ellipse cx="587.35" cy="254.70" rx="5.15" ry="4.05" transform="rotate(60 587.35 254.70)" fill="#fff" stroke="#000" stroke-width="2.0" />
<polyline points="584.3,260.8 584.3,268" fill="none" stroke="#000" stroke-width="1.1" stroke-linejoin="miter"/>
<path d="M598.5,259.5 L614,267.5 M600,264.5 L614,272.5" fill="none" stroke="#000" stroke-width="1.3" />
<ellipse cx="600.00" cy="262.00" rx="1.80" ry="3.00" transform="rotate(-25 600.00 262.00)" fill="#fff" stroke="#000" stroke-width="1.2" />
<line x1="602" y1="260.84000000000003" x2="601.2" y2="266.34000000000003" stroke="#000" stroke-width="1.8"/>
<line x1="605" y1="262.40000000000003" x2="604.2" y2="267.90000000000003" stroke="#000" stroke-width="1.8"/>
<line x1="608.5" y1="264.22" x2="607.7" y2="269.72" stroke="#000" stroke-width="1.8"/>
<ellipse cx="624.30" cy="276.00" rx="16.80" ry="11.60" transform="rotate(108 624.30 276.00)" fill="#fff" stroke="#000" stroke-width="2.8" />
<ellipse cx="624.60" cy="276.40" rx="13.80" ry="9.00" transform="rotate(108 624.60 276.40)" fill="none" stroke="#000" stroke-width="1.0" />
<ellipse cx="625.00" cy="277.00" rx="10.00" ry="6.40" transform="rotate(108 625.00 277.00)" fill="none" stroke="#000" stroke-width="1.3" />
<polyline points="634.44,264.16 634.82,264.86 635.17,265.60 635.49,266.37 635.76,267.18 635.99,268.03 636.17,268.90 636.32,269.80 636.42,270.72 636.48,271.66 636.49,272.61 636.46,273.58 636.39,274.55 636.27,275.53 636.11,276.52 635.91,277.50 635.66,278.47 635.38,279.44 635.05,280.39 634.69,281.33 634.29,282.25 633.85,283.14 633.38,284.02 632.88,284.86 632.34,285.67 631.78,286.44 631.19,287.18 630.57,287.88 629.93,288.53 629.27,289.14 628.60,289.70 627.91,290.22 627.20,290.68 626.48,291.09 625.76,291.44 625.03,291.74 624.30,291.98 623.57,292.17 622.84,292.29 622.12,292.36 621.40,292.37" fill="none" stroke="#fff" stroke-width="1.2" stroke-dasharray="1 1"/>
<ellipse cx="633.00" cy="281.00" rx="3.30" ry="4.20" transform="rotate(-20 633.00 281.00)" fill="#fff" stroke="#000" stroke-width="1.3" />
<polygon points="626.08,280.43 631.58,284.43 634.42,277.57 628.92,273.57" fill="#fff" stroke="none"/>
<line x1="626.08" y1="280.43" x2="631.58" y2="284.43" stroke="#000" stroke-width="1.3"/>
<line x1="628.92" y1="273.57" x2="634.42" y2="277.57" stroke="#000" stroke-width="1.3"/>
<ellipse cx="627.50" cy="277.00" rx="3.30" ry="4.20" transform="rotate(-20 627.50 277.00)" fill="#fff" stroke="#000" stroke-width="1.3" />
<ellipse cx="627.50" cy="277.00" rx="3.30" ry="4.20" transform="rotate(-20 627.50 277.00)" fill="#fff" stroke="#000" stroke-width="1.3" />
<circle cx="635.5" cy="282.5" r="2.6" fill="#000"/>
<polyline points="637,283.5 642,286.5" fill="none" stroke="#000" stroke-width="1.0" stroke-linejoin="miter"/>
<polyline points="625.7,253.5 625.7,259.6" fill="none" stroke="#000" stroke-width="1.1" stroke-linejoin="miter"/>
<ellipse cx="645.00" cy="288.85" rx="7.66" ry="5.33" transform="rotate(60 645.00 288.85)" fill="#fff" stroke="#000" stroke-width="2.0" />
<ellipse cx="645.00" cy="288.75" rx="3.87" ry="3.37" transform="rotate(60 645.00 288.75)" fill="#fff" stroke="#000" stroke-width="1.0" />
<polyline points="644,296.5 644,302.5" fill="none" stroke="#000" stroke-width="1.1" stroke-linejoin="miter"/>
<ellipse cx="672.00" cy="300.00" rx="7.50" ry="9.50" transform="rotate(-25 672.00 300.00)" fill="#fff" stroke="#000" stroke-width="1.6" />
<polygon points="671.19,311.74 676.69,308.24 667.31,291.76 661.81,295.26" fill="#fff" stroke="none"/>
<line x1="671.19" y1="311.74" x2="676.69" y2="308.24" stroke="#000" stroke-width="1.6"/>
<line x1="661.81" y1="295.26" x2="667.31" y2="291.76" stroke="#000" stroke-width="1.6"/>
<ellipse cx="666.50" cy="303.50" rx="7.50" ry="9.50" transform="rotate(-25 666.50 303.50)" fill="#fff" stroke="#000" stroke-width="1.6" />
<ellipse cx="666.50" cy="303.50" rx="7.50" ry="9.50" transform="rotate(-25 666.50 303.50)" fill="#fff" stroke="#000" stroke-width="1.6" />
<ellipse cx="666.80" cy="303.30" rx="5.00" ry="6.70" transform="rotate(-25 666.80 303.30)" fill="#000" stroke="#000" stroke-width="0" />
<ellipse cx="667.00" cy="303.20" rx="2.30" ry="3.20" transform="rotate(-25 667.00 303.20)" fill="#fff" stroke="#000" stroke-width="0" />
<polyline points="670.2,286.7 670.2,292.7" fill="none" stroke="#000" stroke-width="1.1" stroke-linejoin="miter"/>
<path d="M491,318 C491,309 498,301 509,299.5 C522,298.5 532,306 534,318 C535.5,331 532,343 523,350.5 C516,355.5 507,357 501,355 L493,330 Z" fill="#fff" stroke="#000" stroke-width="1.5" />
<path d="M509,301.5 C521,301 529,308 531.5,318 C533.5,330 530,342 522,349" fill="none" stroke="#000" stroke-width="2.2" />
<path d="M494,307 C496,302 500,301 503.5,303 L503,310 L497,312 Z" fill="#000" stroke="#000" stroke-width="1" />
<path d="M493,315 C497,309 504,306 512,306.5" fill="none" stroke="#000" stroke-width="1.0" />
<ellipse cx="516.00" cy="332.00" rx="22.08" ry="11.73" transform="rotate(60 516.00 332.00)" fill="#fff" stroke="#000" stroke-width="1.2" />
<ellipse cx="515.75" cy="332.50" rx="13.29" ry="9.76" transform="rotate(60 515.75 332.50)" fill="#fff" stroke="#000" stroke-width="1.4" />
<ellipse cx="517.50" cy="333.75" rx="8.60" ry="7.10" transform="rotate(60 517.50 333.75)" fill="#fff" stroke="#000" stroke-width="1.2" />
<ellipse cx="518.50" cy="334.25" rx="5.37" ry="4.87" transform="rotate(60 518.50 334.25)" fill="#fff" stroke="#000" stroke-width="2.2" />
<path d="M487,323.5 C492,325 497,326 500.5,326.5 C504,334 505.5,346 503,355.5 C499,358.5 492,359.5 487.5,359 Z" fill="#fff" stroke="#000" stroke-width="1.4" />
<path d="M489,325 C486,330 487,345 487.5,358" fill="none" stroke="#000" stroke-width="1.0" />
<path d="M502,355 C508,356 514,352 518,349" fill="none" stroke="#000" stroke-width="1.6" />
<polyline points="516.7,349.8 516.7,357" fill="none" stroke="#000" stroke-width="1.1" stroke-linejoin="miter"/>
<line x1="576.5" y1="313.5" x2="581.5" y2="316.5" stroke="#000" stroke-width="3.2" stroke-linecap="round"/>
<circle cx="581.5" cy="316.5" r="2.8" fill="#000"/>
<line x1="568.5" y1="318.5" x2="573.5" y2="321.5" stroke="#000" stroke-width="3.2" stroke-linecap="round"/>
<circle cx="573.5" cy="321.5" r="2.8" fill="#000"/>
<line x1="558.5" y1="322.5" x2="563.5" y2="325.5" stroke="#000" stroke-width="3.2" stroke-linecap="round"/>
<circle cx="563.5" cy="325.5" r="2.8" fill="#000"/>
<polyline points="581.4,320 581.4,329.5" fill="none" stroke="#000" stroke-width="1.1" stroke-linejoin="miter"/>
<ellipse cx="549.30" cy="355.10" rx="10.89" ry="7.23" transform="rotate(60 549.30 355.10)" fill="#fff" stroke="#000" stroke-width="2.8" />
<ellipse cx="549.30" cy="355.00" rx="5.43" ry="3.39" transform="rotate(60 549.30 355.00)" fill="#fff" stroke="#000" stroke-width="1.2" />
<polyline points="557.5,348.5 562,348.5" fill="none" stroke="#000" stroke-width="1.1" stroke-linejoin="miter"/>
<ellipse cx="537" cy="403.5" rx="7" ry="8" fill="#fff" stroke="#000" stroke-width="1.4"/>
<path d="M516.5,378.6 L533.5,391.5 C536.0,394.0 536.0,404.0 534.0,407.5 L526.0,408.5 L509.0,406.2 Z" fill="#fff" stroke="#000" stroke-width="1.4" />
<ellipse cx="512.60" cy="392.40" rx="14.20" ry="7.60" transform="rotate(-66 512.60 392.40)" fill="#fff" stroke="#000" stroke-width="1.5" />
<ellipse cx="513.30" cy="392.40" rx="12.20" ry="5.80" transform="rotate(-66 513.30 392.40)" fill="none" stroke="#000" stroke-width="1.0" />
<path d="M523.5,386.0 C526.0,392.0 526.0,401.0 524.0,408.0 M526.5,388.0 C529.0,394.0 529.0,402.0 527.0,408.3 M529.5,389.5 C532.0,396.0 532.0,403.0 530.0,408.2" fill="none" stroke="#000" stroke-width="1.1" />
<path d="M535,410.5 C531,424 523,438 508,448.5 C503,451.5 497,452 494,455 C491,459 492,465 497,467 M543,409 C539,424 530,440 515,452" fill="none" stroke="#000" stroke-width="1.3" />
<path d="M503,455 C508,453 514,453.5 520,457 C527,461 536,464 540,470 C543,477 542,486 536,489.5 C530,492 523,489 519,484 C514,478 509,472 503,469 Z" fill="#fff" stroke="#000" stroke-width="1.4" />
<path d="M498.5,455.5 C501,453.5 504,453.5 505,456 L505,468 C502,469 499,468 498,466 Z" fill="#000" stroke="#000" stroke-width="0.8" />
<ellipse cx="534.00" cy="480.20" rx="9.60" ry="6.60" transform="rotate(-65 534.00 480.20)" fill="#fff" stroke="#000" stroke-width="1.5" />
<ellipse cx="534.30" cy="480.00" rx="6.80" ry="4.40" transform="rotate(-65 534.30 480.00)" fill="#fff" stroke="#000" stroke-width="1.6" />
<path d="M533,476.5 c2,-1.5 4,1 2,3 c-2,1 -1,4 1,3" fill="none" stroke="#000" stroke-width="1.2" />
<polyline points="544.5,406.2 556.3,406.2" fill="none" stroke="#000" stroke-width="1.1" stroke-linejoin="miter"/>
<ellipse cx="644.5" cy="403.9" rx="7" ry="8" fill="#fff" stroke="#000" stroke-width="1.4"/>
<path d="M624.0,379.0 L641.0,391.9 C643.5,394.4 643.5,404.4 641.5,407.9 L633.5,408.9 L616.5,406.6 Z" fill="#fff" stroke="#000" stroke-width="1.4" />
<ellipse cx="620.10" cy="392.80" rx="14.20" ry="7.60" transform="rotate(-66 620.10 392.80)" fill="#fff" stroke="#000" stroke-width="1.5" />
<ellipse cx="620.80" cy="392.80" rx="12.20" ry="5.80" transform="rotate(-66 620.80 392.80)" fill="none" stroke="#000" stroke-width="1.0" />
<path d="M631.0,386.4 C633.5,392.4 633.5,401.4 631.5,408.4 M634.0,388.4 C636.5,394.4 636.5,402.4 634.5,408.7 M637.0,389.9 C639.5,396.4 639.5,403.4 637.5,408.6" fill="none" stroke="#000" stroke-width="1.1" />
<path d="M642.5,411 C638.5,425 630.5,439 615.5,449 C610.5,452 604.5,452.5 601.5,455.5 C598.5,459.5 599.5,465.5 604.5,467.5 M650.5,409.5 C646.5,424.5 637.5,440.5 622.5,452.5" fill="none" stroke="#000" stroke-width="1.3" />
<path d="M604,455 C607,452 611,451 614,452 L619,461 C614,466 609,467 606,465 C603,462 602,458 604,455 Z" fill="#fff" stroke="#000" stroke-width="1.3" />
<path d="M613,466 C615,460 622,456.5 632,456.5 C644,456.5 655,466 655.5,478 C656,492 648,504 636,505.5 C624,506 613,498 609.5,487 C607.5,479 609,471 613,466 Z" fill="#fff" stroke="#000" stroke-width="1.5"/>
<ellipse cx="640.00" cy="489.00" rx="15.50" ry="11.50" transform="rotate(-55 640.00 489.00)" fill="#fff" stroke="#000" stroke-width="2.2" />
<ellipse cx="640.50" cy="488.50" rx="10.00" ry="7.00" transform="rotate(-55 640.50 488.50)" fill="#fff" stroke="#000" stroke-width="1.2" />
<circle cx="643" cy="485" r="0.8" fill="#000"/><circle cx="638" cy="491" r="0.8" fill="#000"/>
<text x="536.8" y="498.6" font-size="11" class="m" textLength="33.4" lengthAdjust="spacingAndGlyphs">4000-CH</text>
<text x="536.8" y="512.5" font-size="11" class="m" textLength="37.5" lengthAdjust="spacingAndGlyphs">4000-CXH</text>
<text x="646" y="429" font-size="11" class="m" textLength="41.7" lengthAdjust="spacingAndGlyphs">5000D-CXH</text>
<text x="646" y="442.9" font-size="11" class="m" textLength="32" lengthAdjust="spacingAndGlyphs">6000D-H</text>
<text x="646" y="456.8" font-size="11" class="m" textLength="22.2" lengthAdjust="spacingAndGlyphs">6000D</text>
<polyline points="0,572.5 20,572.5" fill="none" stroke="#000" stroke-width="1.2" stroke-linejoin="miter"/>
<line x1="124.37" y1="192.75" x2="129.63" y2="189.85" stroke="#000" stroke-width="1.0"/>
<line x1="146.13" y1="179.89" x2="152.27" y2="176.51" stroke="#000" stroke-width="1.0"/>
<line x1="169.37" y1="166.45" x2="174.63" y2="163.55" stroke="#000" stroke-width="1.0"/>
<line x1="189.47" y1="154.86" x2="193.33" y2="152.74" stroke="#000" stroke-width="1.0"/>
<line x1="212.85" y1="140.95" x2="217.75" y2="138.25" stroke="#000" stroke-width="1.0"/>
<line x1="230.81" y1="132.20" x2="235.19" y2="129.80" stroke="#000" stroke-width="1.0"/>
<line x1="301.47" y1="203.55" x2="307.53" y2="200.05" stroke="#000" stroke-width="1.0"/>
<line x1="349.74" y1="173.55" x2="359.26" y2="168.05" stroke="#000" stroke-width="1.0"/>
<line x1="394.24" y1="150.00" x2="401.16" y2="146.00" stroke="#000" stroke-width="1.0"/>
<line x1="441.37" y1="120.30" x2="450.03" y2="115.30" stroke="#000" stroke-width="1.0"/>
<line x1="43.27" y1="352.90" x2="51.93" y2="347.90" stroke="#000" stroke-width="1.0"/>
<line x1="116.97" y1="310.75" x2="123.03" y2="307.25" stroke="#000" stroke-width="1.0"/>
<line x1="160.73" y1="284.85" x2="165.07" y2="282.35" stroke="#000" stroke-width="1.0"/>
<line x1="431.91" y1="253.64" x2="444.09" y2="246.76" stroke="#000" stroke-width="1.0"/>
<line x1="483.02" y1="225.27" x2="489.98" y2="221.33" stroke="#000" stroke-width="1.0"/>
<line x1="540.42" y1="192.83" x2="544.78" y2="190.37" stroke="#000" stroke-width="1.0"/>
<line x1="662.11" y1="226.19" x2="667.29" y2="229.21" stroke="#000" stroke-width="1.0"/>
<line x1="584.67" y1="253.25" x2="589.93" y2="256.15" stroke="#000" stroke-width="1.0"/>
<line x1="642.37" y1="287.35" x2="647.63" y2="290.25" stroke="#000" stroke-width="1.0"/>
<line x1="707.27" y1="252.99" x2="710.73" y2="255.01" stroke="#000" stroke-width="1.0"/>
<line x1="419.10" y1="134.50" x2="429.50" y2="128.50" stroke="#000" stroke-width="1.0"/>
</svg></body></html>
